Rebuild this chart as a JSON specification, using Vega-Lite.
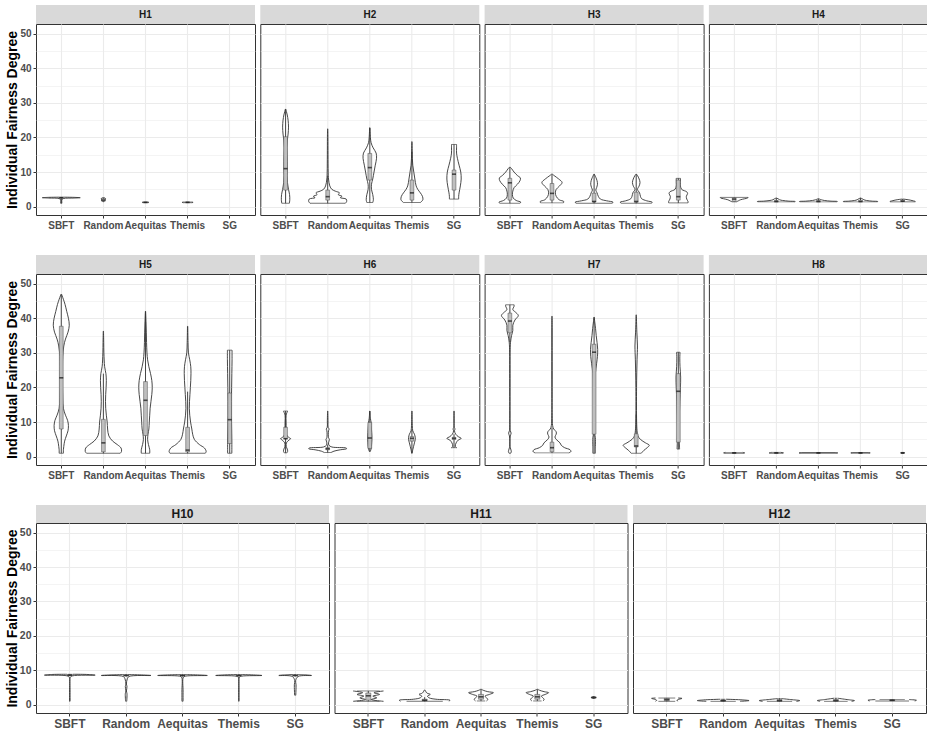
{
"$schema": "https://vega.github.io/schema/vega-lite/v6.json",
"padding": {"left": 4, "top": 5, "right": 1, "bottom": 2},
"config": {
 "background": "white",
 "font": "Liberation Sans",
 "view": {"stroke": "#333333", "strokeWidth": 1},
 "axis": {"domain": false, "gridColor": "#EBEBEB", "tickColor": "#333333", "tickSize": 3, "tickWidth": 1, "labelFontWeight": "bold", "labelColor": "#4D4D4D", "labelPadding": 2, "labelOverlap": false, "labelBound": false, "labelFlush": false, "labelFont": "Liberation Sans", "titleFont": "Liberation Sans"}
},
"datasets": {
 "panels": [{"p":"H1"},{"p":"H2"},{"p":"H3"},{"p":"H4"},{"p":"H5"},{"p":"H6"},{"p":"H7"},{"p":"H8"},{"p":"H10"},{"p":"H11"},{"p":"H12"}],
 "box": [
  {"p":"H1","m":"SBFT","lo":1,"q1":2.4,"med":2.6,"q3":2.6,"hi":2.7},
  {"p":"H1","m":"Random","lo":1.4,"q1":1.6,"med":1.9,"q3":2.3,"hi":2.6},
  {"p":"H1","m":"Aequitas","lo":1.15,"q1":1.2,"med":1.25,"q3":1.3,"hi":1.35},
  {"p":"H1","m":"Themis","lo":1.15,"q1":1.2,"med":1.25,"q3":1.3,"hi":1.35},
  {"p":"H2","m":"SBFT","lo":1,"q1":4.8,"med":11,"q3":20.2,"hi":28.2},
  {"p":"H2","m":"Random","lo":1,"q1":1.9,"med":2.9,"q3":4.8,"hi":9},
  {"p":"H2","m":"Aequitas","lo":1.2,"q1":7.7,"med":11.3,"q3":15.4,"hi":22.8},
  {"p":"H2","m":"Themis","lo":1.2,"q1":1.9,"med":4,"q3":7.7,"hi":16},
  {"p":"H2","m":"SG","lo":2.2,"q1":4.8,"med":9.4,"q3":10.6,"hi":18},
  {"p":"H3","m":"SBFT","lo":1,"q1":1.9,"med":6.9,"q3":8.2,"hi":11.4},
  {"p":"H3","m":"Random","lo":1.1,"q1":1.9,"med":3.85,"q3":6.7,"hi":9.4},
  {"p":"H3","m":"Aequitas","lo":1,"q1":1.4,"med":1.5,"q3":3.9,"hi":9.4},
  {"p":"H3","m":"Themis","lo":1,"q1":1.3,"med":1.5,"q3":4.2,"hi":9.4},
  {"p":"H3","m":"SG","lo":1.1,"q1":1.9,"med":2.9,"q3":7.7,"hi":8.2},
  {"p":"H4","m":"SBFT","lo":1.4,"q1":1.5,"med":2.2,"q3":2.6,"hi":2.7},
  {"p":"H4","m":"Random","lo":1.4,"q1":1.45,"med":1.5,"q3":1.8,"hi":2.5},
  {"p":"H4","m":"Aequitas","lo":1.4,"q1":1.45,"med":1.5,"q3":1.8,"hi":2.3},
  {"p":"H4","m":"Themis","lo":1.4,"q1":1.45,"med":1.5,"q3":1.9,"hi":2.5},
  {"p":"H4","m":"SG","lo":1.4,"q1":1.5,"med":1.6,"q3":1.9,"hi":2.2},
  {"p":"H5","m":"SBFT","lo":1,"q1":8,"med":22.8,"q3":37.7,"hi":46.9},
  {"p":"H5","m":"Random","lo":1,"q1":1.4,"med":4,"q3":10.8,"hi":24},
  {"p":"H5","m":"Aequitas","lo":1,"q1":6.1,"med":16.3,"q3":21.7,"hi":42},
  {"p":"H5","m":"Themis","lo":1,"q1":1.4,"med":1.9,"q3":8.5,"hi":18.8},
  {"p":"H5","m":"SG","lo":1,"q1":3.8,"med":10.7,"q3":18.4,"hi":30.8},
  {"p":"H6","m":"SBFT","lo":1.1,"q1":5.2,"med":5.2,"q3":8.5,"hi":13.2},
  {"p":"H6","m":"Random","lo":1.2,"q1":2.0,"med":2.3,"q3":2.6,"hi":3.5},
  {"p":"H6","m":"Aequitas","lo":1.5,"q1":2.4,"med":5.4,"q3":9.9,"hi":13.2},
  {"p":"H6","m":"Themis","lo":1,"q1":4.5,"med":5.3,"q3":5.8,"hi":7.8},
  {"p":"H6","m":"SG","lo":2.6,"q1":5.0,"med":5.3,"q3":5.6,"hi":6.5},
  {"p":"H7","m":"SBFT","lo":33,"q1":35.8,"med":39.2,"q3":41.5,"hi":43.9},
  {"p":"H7","m":"Random","lo":1.1,"q1":1.4,"med":2.6,"q3":4.2,"hi":8.4},
  {"p":"H7","m":"Aequitas","lo":1,"q1":6.5,"med":30.2,"q3":32.5,"hi":40.3},
  {"p":"H7","m":"Themis","lo":1,"q1":2.8,"med":3.1,"q3":6.6,"hi":12.2},
  {"p":"H7","m":"SG","lo":2.2,"q1":4.2,"med":18.9,"q3":24,"hi":30.2},
  {"p":"H8","m":"SBFT","lo":1,"q1":1.05,"med":1.1,"q3":1.15,"hi":1.2},
  {"p":"H8","m":"Random","lo":1,"q1":1.05,"med":1.1,"q3":1.15,"hi":1.2},
  {"p":"H8","m":"Aequitas","lo":1,"q1":1.05,"med":1.1,"q3":1.15,"hi":1.2},
  {"p":"H8","m":"Themis","lo":1,"q1":1.05,"med":1.1,"q3":1.15,"hi":1.2},
  {"p":"H8","m":"SG","lo":1,"q1":1.05,"med":1.1,"q3":1.15,"hi":1.2},
  {"p":"H10","m":"SBFT","lo":8.3,"q1":8.5,"med":8.6,"q3":8.7,"hi":8.8},
  {"p":"H10","m":"Random","lo":8.2,"q1":8.4,"med":8.5,"q3":8.6,"hi":8.7},
  {"p":"H10","m":"Aequitas","lo":8.2,"q1":8.4,"med":8.5,"q3":8.6,"hi":8.7},
  {"p":"H10","m":"Themis","lo":8.2,"q1":8.4,"med":8.5,"q3":8.6,"hi":8.7},
  {"p":"H10","m":"SG","lo":8.2,"q1":8.4,"med":8.5,"q3":8.6,"hi":8.7},
  {"p":"H11","m":"SBFT","lo":1,"q1":1.3,"med":2.6,"q3":3.4,"hi":4.0},
  {"p":"H11","m":"Random","lo":1,"q1":1.2,"med":1.3,"q3":1.6,"hi":2.2},
  {"p":"H11","m":"Aequitas","lo":1.1,"q1":1.6,"med":2.3,"q3":3.0,"hi":4.5},
  {"p":"H11","m":"Themis","lo":1.1,"q1":1.6,"med":2.3,"q3":3.0,"hi":4.5},
  {"p":"H11","m":"SG","lo":1.8,"q1":2.0,"med":2.1,"q3":2.2,"hi":2.4},
  {"p":"H12","m":"SBFT","lo":1,"q1":1.2,"med":1.5,"q3":1.85,"hi":1.95},
  {"p":"H12","m":"Random","lo":1,"q1":1.1,"med":1.2,"q3":1.3,"hi":1.5},
  {"p":"H12","m":"Aequitas","lo":1,"q1":1.1,"med":1.2,"q3":1.5,"hi":1.8},
  {"p":"H12","m":"Themis","lo":1,"q1":1.1,"med":1.2,"q3":1.5,"hi":1.9},
  {"p":"H12","m":"SG","lo":1.1,"q1":1.2,"med":1.3,"q3":1.4,"hi":1.5}
 ],
 "violin": [
  {"p":"H1","m":"SBFT","y":1.0,"w":0.015},{"p":"H1","m":"SBFT","y":1.5,"w":0.012},{"p":"H1","m":"SBFT","y":2.0,"w":0.015},{"p":"H1","m":"SBFT","y":2.35,"w":0.05},{"p":"H1","m":"SBFT","y":2.5,"w":0.3},{"p":"H1","m":"SBFT","y":2.6,"w":0.45},{"p":"H1","m":"SBFT","y":2.7,"w":0.3},{"p":"H1","m":"SBFT","y":2.75,"w":0.05},
  {"p":"H1","m":"Random","y":1.4,"w":0.01},{"p":"H1","m":"Random","y":1.7,"w":0.025},{"p":"H1","m":"Random","y":2.0,"w":0.04},{"p":"H1","m":"Random","y":2.3,"w":0.05},{"p":"H1","m":"Random","y":2.5,"w":0.04},{"p":"H1","m":"Random","y":2.6,"w":0.01},
  {"p":"H1","m":"Aequitas","y":1.15,"w":0.06},{"p":"H1","m":"Aequitas","y":1.25,"w":0.08},{"p":"H1","m":"Aequitas","y":1.35,"w":0.06},
  {"p":"H1","m":"Themis","y":1.15,"w":0.1},{"p":"H1","m":"Themis","y":1.25,"w":0.13},{"p":"H1","m":"Themis","y":1.35,"w":0.1},
  {"p":"H2","m":"SBFT","y":1.0,"w":0.09},{"p":"H2","m":"SBFT","y":2,"w":0.1},{"p":"H2","m":"SBFT","y":3.5,"w":0.095},{"p":"H2","m":"SBFT","y":5,"w":0.07},{"p":"H2","m":"SBFT","y":7,"w":0.045},{"p":"H2","m":"SBFT","y":9,"w":0.035},{"p":"H2","m":"SBFT","y":11,"w":0.04},{"p":"H2","m":"SBFT","y":13,"w":0.04},{"p":"H2","m":"SBFT","y":15,"w":0.035},{"p":"H2","m":"SBFT","y":17,"w":0.03},{"p":"H2","m":"SBFT","y":19,"w":0.04},{"p":"H2","m":"SBFT","y":21,"w":0.06},{"p":"H2","m":"SBFT","y":23,"w":0.07},{"p":"H2","m":"SBFT","y":25,"w":0.06},{"p":"H2","m":"SBFT","y":26.5,"w":0.04},{"p":"H2","m":"SBFT","y":27.5,"w":0.02},{"p":"H2","m":"SBFT","y":28.2,"w":0.005},
  {"p":"H2","m":"Random","y":1.0,"w":0.42},{"p":"H2","m":"Random","y":1.5,"w":0.45},{"p":"H2","m":"Random","y":2.2,"w":0.44},{"p":"H2","m":"Random","y":2.6,"w":0.3},{"p":"H2","m":"Random","y":3.0,"w":0.34},{"p":"H2","m":"Random","y":3.5,"w":0.25},{"p":"H2","m":"Random","y":4.0,"w":0.28},{"p":"H2","m":"Random","y":4.5,"w":0.18},{"p":"H2","m":"Random","y":5.0,"w":0.1},{"p":"H2","m":"Random","y":6,"w":0.05},{"p":"H2","m":"Random","y":8,"w":0.02},{"p":"H2","m":"Random","y":10,"w":0.012},{"p":"H2","m":"Random","y":15,"w":0.008},{"p":"H2","m":"Random","y":20,"w":0.006},{"p":"H2","m":"Random","y":22.5,"w":0.003},
  {"p":"H2","m":"Aequitas","y":1.2,"w":0.07},{"p":"H2","m":"Aequitas","y":2,"w":0.085},{"p":"H2","m":"Aequitas","y":3.5,"w":0.07},{"p":"H2","m":"Aequitas","y":5,"w":0.04},{"p":"H2","m":"Aequitas","y":6.5,"w":0.04},{"p":"H2","m":"Aequitas","y":8,"w":0.07},{"p":"H2","m":"Aequitas","y":10,"w":0.1},{"p":"H2","m":"Aequitas","y":12,"w":0.13},{"p":"H2","m":"Aequitas","y":14,"w":0.16},{"p":"H2","m":"Aequitas","y":15.5,"w":0.15},{"p":"H2","m":"Aequitas","y":17,"w":0.08},{"p":"H2","m":"Aequitas","y":18.5,"w":0.03},{"p":"H2","m":"Aequitas","y":20,"w":0.015},{"p":"H2","m":"Aequitas","y":22.8,"w":0.004},
  {"p":"H2","m":"Themis","y":1.2,"w":0.2},{"p":"H2","m":"Themis","y":2,"w":0.26},{"p":"H2","m":"Themis","y":3,"w":0.25},{"p":"H2","m":"Themis","y":4,"w":0.2},{"p":"H2","m":"Themis","y":5,"w":0.14},{"p":"H2","m":"Themis","y":6,"w":0.1},{"p":"H2","m":"Themis","y":8,"w":0.07},{"p":"H2","m":"Themis","y":10,"w":0.045},{"p":"H2","m":"Themis","y":12,"w":0.02},{"p":"H2","m":"Themis","y":14,"w":0.01},{"p":"H2","m":"Themis","y":16,"w":0.008},{"p":"H2","m":"Themis","y":18.8,"w":0.003},
  {"p":"H2","m":"SG","y":2.2,"w":0.11},{"p":"H2","m":"SG","y":3,"w":0.11},{"p":"H2","m":"SG","y":4,"w":0.12},{"p":"H2","m":"SG","y":6,"w":0.15},{"p":"H2","m":"SG","y":8,"w":0.17},{"p":"H2","m":"SG","y":10,"w":0.16},{"p":"H2","m":"SG","y":12,"w":0.12},{"p":"H2","m":"SG","y":14,"w":0.08},{"p":"H2","m":"SG","y":15.5,"w":0.06},{"p":"H2","m":"SG","y":17,"w":0.06},{"p":"H2","m":"SG","y":18,"w":0.06},
  {"p":"H3","m":"SBFT","y":1.0,"w":0.24},{"p":"H3","m":"SBFT","y":1.3,"w":0.26},{"p":"H3","m":"SBFT","y":1.8,"w":0.15},{"p":"H3","m":"SBFT","y":2.5,"w":0.08},{"p":"H3","m":"SBFT","y":3.5,"w":0.06},{"p":"H3","m":"SBFT","y":4.5,"w":0.07},{"p":"H3","m":"SBFT","y":5.5,"w":0.1},{"p":"H3","m":"SBFT","y":6.5,"w":0.18},{"p":"H3","m":"SBFT","y":7.5,"w":0.24},{"p":"H3","m":"SBFT","y":8.3,"w":0.25},{"p":"H3","m":"SBFT","y":9,"w":0.18},{"p":"H3","m":"SBFT","y":10,"w":0.1},{"p":"H3","m":"SBFT","y":11,"w":0.04},{"p":"H3","m":"SBFT","y":11.4,"w":0.01},
  {"p":"H3","m":"Random","y":1.1,"w":0.27},{"p":"H3","m":"Random","y":1.5,"w":0.28},{"p":"H3","m":"Random","y":2,"w":0.17},{"p":"H3","m":"Random","y":3,"w":0.1},{"p":"H3","m":"Random","y":4,"w":0.08},{"p":"H3","m":"Random","y":5,"w":0.1},{"p":"H3","m":"Random","y":6,"w":0.18},{"p":"H3","m":"Random","y":7,"w":0.24},{"p":"H3","m":"Random","y":8,"w":0.16},{"p":"H3","m":"Random","y":9,"w":0.05},{"p":"H3","m":"Random","y":9.4,"w":0.01},
  {"p":"H3","m":"Aequitas","y":1.0,"w":0.43},{"p":"H3","m":"Aequitas","y":1.3,"w":0.45},{"p":"H3","m":"Aequitas","y":1.7,"w":0.3},{"p":"H3","m":"Aequitas","y":2.2,"w":0.15},{"p":"H3","m":"Aequitas","y":3,"w":0.1},{"p":"H3","m":"Aequitas","y":4,"w":0.07},{"p":"H3","m":"Aequitas","y":4.8,"w":0.04},{"p":"H3","m":"Aequitas","y":5.5,"w":0.06},{"p":"H3","m":"Aequitas","y":6.5,"w":0.08},{"p":"H3","m":"Aequitas","y":7.5,"w":0.07},{"p":"H3","m":"Aequitas","y":8.5,"w":0.04},{"p":"H3","m":"Aequitas","y":9.4,"w":0.005},
  {"p":"H3","m":"Themis","y":1.0,"w":0.36},{"p":"H3","m":"Themis","y":1.3,"w":0.38},{"p":"H3","m":"Themis","y":1.7,"w":0.25},{"p":"H3","m":"Themis","y":2.3,"w":0.13},{"p":"H3","m":"Themis","y":3,"w":0.1},{"p":"H3","m":"Themis","y":4,"w":0.08},{"p":"H3","m":"Themis","y":5,"w":0.03},{"p":"H3","m":"Themis","y":6,"w":0.07},{"p":"H3","m":"Themis","y":7,"w":0.09},{"p":"H3","m":"Themis","y":8,"w":0.07},{"p":"H3","m":"Themis","y":9,"w":0.03},{"p":"H3","m":"Themis","y":9.4,"w":0.005},
  {"p":"H3","m":"SG","y":1.1,"w":0.23},{"p":"H3","m":"SG","y":1.5,"w":0.23},{"p":"H3","m":"SG","y":2.2,"w":0.2},{"p":"H3","m":"SG","y":3,"w":0.19},{"p":"H3","m":"SG","y":3.8,"w":0.22},{"p":"H3","m":"SG","y":4.3,"w":0.2},{"p":"H3","m":"SG","y":5,"w":0.08},{"p":"H3","m":"SG","y":6,"w":0.05},{"p":"H3","m":"SG","y":7,"w":0.05},{"p":"H3","m":"SG","y":8.2,"w":0.05},
  {"p":"H4","m":"SBFT","y":1.4,"w":0.05},{"p":"H4","m":"SBFT","y":1.7,"w":0.1},{"p":"H4","m":"SBFT","y":2.0,"w":0.15},{"p":"H4","m":"SBFT","y":2.3,"w":0.25},{"p":"H4","m":"SBFT","y":2.5,"w":0.32},{"p":"H4","m":"SBFT","y":2.7,"w":0.33},
  {"p":"H4","m":"Random","y":1.4,"w":0.44},{"p":"H4","m":"Random","y":1.5,"w":0.45},{"p":"H4","m":"Random","y":1.6,"w":0.3},{"p":"H4","m":"Random","y":1.8,"w":0.15},{"p":"H4","m":"Random","y":2.0,"w":0.08},{"p":"H4","m":"Random","y":2.3,"w":0.04},{"p":"H4","m":"Random","y":2.5,"w":0.005},
  {"p":"H4","m":"Aequitas","y":1.4,"w":0.44},{"p":"H4","m":"Aequitas","y":1.5,"w":0.45},{"p":"H4","m":"Aequitas","y":1.6,"w":0.3},{"p":"H4","m":"Aequitas","y":1.8,"w":0.14},{"p":"H4","m":"Aequitas","y":2.0,"w":0.07},{"p":"H4","m":"Aequitas","y":2.3,"w":0.005},
  {"p":"H4","m":"Themis","y":1.4,"w":0.4},{"p":"H4","m":"Themis","y":1.5,"w":0.41},{"p":"H4","m":"Themis","y":1.6,"w":0.28},{"p":"H4","m":"Themis","y":1.8,"w":0.14},{"p":"H4","m":"Themis","y":2.0,"w":0.08},{"p":"H4","m":"Themis","y":2.3,"w":0.04},{"p":"H4","m":"Themis","y":2.5,"w":0.005},
  {"p":"H4","m":"SG","y":1.4,"w":0.3},{"p":"H4","m":"SG","y":1.5,"w":0.3},{"p":"H4","m":"SG","y":1.7,"w":0.25},{"p":"H4","m":"SG","y":1.9,"w":0.18},{"p":"H4","m":"SG","y":2.1,"w":0.08},{"p":"H4","m":"SG","y":2.2,"w":0.01},
  {"p":"H5","m":"SBFT","y":1.0,"w":0.05},{"p":"H5","m":"SBFT","y":2,"w":0.05},{"p":"H5","m":"SBFT","y":3,"w":0.06},{"p":"H5","m":"SBFT","y":4.5,"w":0.08},{"p":"H5","m":"SBFT","y":6,"w":0.12},{"p":"H5","m":"SBFT","y":7.5,"w":0.16},{"p":"H5","m":"SBFT","y":9,"w":0.17},{"p":"H5","m":"SBFT","y":10.5,"w":0.15},{"p":"H5","m":"SBFT","y":12,"w":0.1},{"p":"H5","m":"SBFT","y":14,"w":0.05},{"p":"H5","m":"SBFT","y":17,"w":0.035},{"p":"H5","m":"SBFT","y":20,"w":0.03},{"p":"H5","m":"SBFT","y":23,"w":0.03},{"p":"H5","m":"SBFT","y":26,"w":0.03},{"p":"H5","m":"SBFT","y":29,"w":0.035},{"p":"H5","m":"SBFT","y":32,"w":0.06},{"p":"H5","m":"SBFT","y":34,"w":0.1},{"p":"H5","m":"SBFT","y":36,"w":0.16},{"p":"H5","m":"SBFT","y":38,"w":0.19},{"p":"H5","m":"SBFT","y":40,"w":0.17},{"p":"H5","m":"SBFT","y":42,"w":0.13},{"p":"H5","m":"SBFT","y":44,"w":0.09},{"p":"H5","m":"SBFT","y":45.5,"w":0.05},{"p":"H5","m":"SBFT","y":46.5,"w":0.02},{"p":"H5","m":"SBFT","y":46.9,"w":0.01},
  {"p":"H5","m":"Random","y":1.0,"w":0.4},{"p":"H5","m":"Random","y":1.5,"w":0.43},{"p":"H5","m":"Random","y":2.5,"w":0.42},{"p":"H5","m":"Random","y":3.5,"w":0.33},{"p":"H5","m":"Random","y":4.5,"w":0.22},{"p":"H5","m":"Random","y":6,"w":0.13},{"p":"H5","m":"Random","y":8,"w":0.1},{"p":"H5","m":"Random","y":10,"w":0.09},{"p":"H5","m":"Random","y":12,"w":0.07},{"p":"H5","m":"Random","y":14,"w":0.055},{"p":"H5","m":"Random","y":16,"w":0.05},{"p":"H5","m":"Random","y":18,"w":0.055},{"p":"H5","m":"Random","y":20,"w":0.065},{"p":"H5","m":"Random","y":22,"w":0.07},{"p":"H5","m":"Random","y":24,"w":0.06},{"p":"H5","m":"Random","y":26,"w":0.03},{"p":"H5","m":"Random","y":30,"w":0.012},{"p":"H5","m":"Random","y":33,"w":0.008},{"p":"H5","m":"Random","y":36.3,"w":0.003},
  {"p":"H5","m":"Aequitas","y":1.0,"w":0.1},{"p":"H5","m":"Aequitas","y":2,"w":0.1},{"p":"H5","m":"Aequitas","y":3.5,"w":0.07},{"p":"H5","m":"Aequitas","y":5,"w":0.05},{"p":"H5","m":"Aequitas","y":6.5,"w":0.06},{"p":"H5","m":"Aequitas","y":8,"w":0.08},{"p":"H5","m":"Aequitas","y":10,"w":0.09},{"p":"H5","m":"Aequitas","y":12,"w":0.1},{"p":"H5","m":"Aequitas","y":14,"w":0.11},{"p":"H5","m":"Aequitas","y":16,"w":0.13},{"p":"H5","m":"Aequitas","y":18,"w":0.15},{"p":"H5","m":"Aequitas","y":20,"w":0.16},{"p":"H5","m":"Aequitas","y":22,"w":0.15},{"p":"H5","m":"Aequitas","y":24,"w":0.12},{"p":"H5","m":"Aequitas","y":26,"w":0.08},{"p":"H5","m":"Aequitas","y":28,"w":0.05},{"p":"H5","m":"Aequitas","y":30,"w":0.035},{"p":"H5","m":"Aequitas","y":33,"w":0.025},{"p":"H5","m":"Aequitas","y":36,"w":0.02},{"p":"H5","m":"Aequitas","y":39,"w":0.012},{"p":"H5","m":"Aequitas","y":42,"w":0.003},
  {"p":"H5","m":"Themis","y":1.0,"w":0.42},{"p":"H5","m":"Themis","y":1.5,"w":0.44},{"p":"H5","m":"Themis","y":2.5,"w":0.4},{"p":"H5","m":"Themis","y":3.5,"w":0.28},{"p":"H5","m":"Themis","y":5,"w":0.16},{"p":"H5","m":"Themis","y":6.5,"w":0.12},{"p":"H5","m":"Themis","y":8,"w":0.1},{"p":"H5","m":"Themis","y":10,"w":0.07},{"p":"H5","m":"Themis","y":12,"w":0.05},{"p":"H5","m":"Themis","y":14,"w":0.04},{"p":"H5","m":"Themis","y":16,"w":0.045},{"p":"H5","m":"Themis","y":18,"w":0.055},{"p":"H5","m":"Themis","y":20,"w":0.065},{"p":"H5","m":"Themis","y":22,"w":0.075},{"p":"H5","m":"Themis","y":24,"w":0.08},{"p":"H5","m":"Themis","y":26,"w":0.075},{"p":"H5","m":"Themis","y":28,"w":0.05},{"p":"H5","m":"Themis","y":30,"w":0.02},{"p":"H5","m":"Themis","y":33,"w":0.01},{"p":"H5","m":"Themis","y":37.7,"w":0.003},
  {"p":"H5","m":"SG","y":1.0,"w":0.05},{"p":"H5","m":"SG","y":4,"w":0.05},{"p":"H5","m":"SG","y":8,"w":0.045},{"p":"H5","m":"SG","y":12,"w":0.04},{"p":"H5","m":"SG","y":16,"w":0.04},{"p":"H5","m":"SG","y":20,"w":0.045},{"p":"H5","m":"SG","y":24,"w":0.05},{"p":"H5","m":"SG","y":28,"w":0.055},{"p":"H5","m":"SG","y":30.8,"w":0.055},
  {"p":"H6","m":"SBFT","y":1.1,"w":0.03},{"p":"H6","m":"SBFT","y":1.6,"w":0.05},{"p":"H6","m":"SBFT","y":2.2,"w":0.04},{"p":"H6","m":"SBFT","y":3,"w":0.015},{"p":"H6","m":"SBFT","y":4,"w":0.02},{"p":"H6","m":"SBFT","y":4.8,"w":0.08},{"p":"H6","m":"SBFT","y":5.2,"w":0.12},{"p":"H6","m":"SBFT","y":5.6,"w":0.07},{"p":"H6","m":"SBFT","y":6.5,"w":0.02},{"p":"H6","m":"SBFT","y":8,"w":0.015},{"p":"H6","m":"SBFT","y":10,"w":0.012},{"p":"H6","m":"SBFT","y":12,"w":0.012},{"p":"H6","m":"SBFT","y":13.2,"w":0.05},
  {"p":"H6","m":"Random","y":1.2,"w":0.08},{"p":"H6","m":"Random","y":1.6,"w":0.15},{"p":"H6","m":"Random","y":2.0,"w":0.3},{"p":"H6","m":"Random","y":2.3,"w":0.45},{"p":"H6","m":"Random","y":2.5,"w":0.44},{"p":"H6","m":"Random","y":2.8,"w":0.1},{"p":"H6","m":"Random","y":3.3,"w":0.03},{"p":"H6","m":"Random","y":4,"w":0.02},{"p":"H6","m":"Random","y":5,"w":0.04},{"p":"H6","m":"Random","y":5.5,"w":0.02},{"p":"H6","m":"Random","y":7.5,"w":0.02},{"p":"H6","m":"Random","y":8,"w":0.035},{"p":"H6","m":"Random","y":8.5,"w":0.01},{"p":"H6","m":"Random","y":10,"w":0.008},{"p":"H6","m":"Random","y":13.2,"w":0.003},
  {"p":"H6","m":"Aequitas","y":1.5,"w":0.01},{"p":"H6","m":"Aequitas","y":2.2,"w":0.03},{"p":"H6","m":"Aequitas","y":3,"w":0.04},{"p":"H6","m":"Aequitas","y":4,"w":0.045},{"p":"H6","m":"Aequitas","y":5,"w":0.05},{"p":"H6","m":"Aequitas","y":6,"w":0.05},{"p":"H6","m":"Aequitas","y":7,"w":0.045},{"p":"H6","m":"Aequitas","y":8,"w":0.04},{"p":"H6","m":"Aequitas","y":9,"w":0.035},{"p":"H6","m":"Aequitas","y":10,"w":0.03},{"p":"H6","m":"Aequitas","y":11,"w":0.015},{"p":"H6","m":"Aequitas","y":13.2,"w":0.003},
  {"p":"H6","m":"Themis","y":1.0,"w":0.005},{"p":"H6","m":"Themis","y":2,"w":0.02},{"p":"H6","m":"Themis","y":3,"w":0.04},{"p":"H6","m":"Themis","y":4,"w":0.06},{"p":"H6","m":"Themis","y":5,"w":0.08},{"p":"H6","m":"Themis","y":5.5,"w":0.08},{"p":"H6","m":"Themis","y":6.5,"w":0.06},{"p":"H6","m":"Themis","y":7.5,"w":0.02},{"p":"H6","m":"Themis","y":9,"w":0.01},{"p":"H6","m":"Themis","y":13.2,"w":0.003},
  {"p":"H6","m":"SG","y":2.6,"w":0.06},{"p":"H6","m":"SG","y":3,"w":0.03},{"p":"H6","m":"SG","y":4,"w":0.05},{"p":"H6","m":"SG","y":4.8,"w":0.1},{"p":"H6","m":"SG","y":5.3,"w":0.17},{"p":"H6","m":"SG","y":5.8,"w":0.1},{"p":"H6","m":"SG","y":6.5,"w":0.04},{"p":"H6","m":"SG","y":7.5,"w":0.01},{"p":"H6","m":"SG","y":8,"w":0.025},{"p":"H6","m":"SG","y":8.5,"w":0.005},{"p":"H6","m":"SG","y":13.2,"w":0.003},
  {"p":"H7","m":"SBFT","y":1.0,"w":0.02},{"p":"H7","m":"SBFT","y":1.5,"w":0.035},{"p":"H7","m":"SBFT","y":2.2,"w":0.02},{"p":"H7","m":"SBFT","y":3,"w":0.005},{"p":"H7","m":"SBFT","y":6,"w":0.01},{"p":"H7","m":"SBFT","y":6.8,"w":0.03},{"p":"H7","m":"SBFT","y":7.5,"w":0.01},{"p":"H7","m":"SBFT","y":10,"w":0.004},{"p":"H7","m":"SBFT","y":20,"w":0.004},{"p":"H7","m":"SBFT","y":30,"w":0.006},{"p":"H7","m":"SBFT","y":33,"w":0.015},{"p":"H7","m":"SBFT","y":35,"w":0.04},{"p":"H7","m":"SBFT","y":36.5,"w":0.07},{"p":"H7","m":"SBFT","y":38,"w":0.07},{"p":"H7","m":"SBFT","y":39.5,"w":0.12},{"p":"H7","m":"SBFT","y":40.8,"w":0.2},{"p":"H7","m":"SBFT","y":41.8,"w":0.13},{"p":"H7","m":"SBFT","y":42.5,"w":0.07},{"p":"H7","m":"SBFT","y":43.5,"w":0.1},{"p":"H7","m":"SBFT","y":43.9,"w":0.1},
  {"p":"H7","m":"Random","y":1.1,"w":0.4},{"p":"H7","m":"Random","y":1.5,"w":0.45},{"p":"H7","m":"Random","y":2.0,"w":0.43},{"p":"H7","m":"Random","y":2.6,"w":0.3},{"p":"H7","m":"Random","y":3.3,"w":0.22},{"p":"H7","m":"Random","y":4,"w":0.19},{"p":"H7","m":"Random","y":5,"w":0.1},{"p":"H7","m":"Random","y":5.7,"w":0.07},{"p":"H7","m":"Random","y":6.5,"w":0.1},{"p":"H7","m":"Random","y":7.2,"w":0.1},{"p":"H7","m":"Random","y":8,"w":0.04},{"p":"H7","m":"Random","y":9,"w":0.015},{"p":"H7","m":"Random","y":12,"w":0.006},{"p":"H7","m":"Random","y":20,"w":0.004},{"p":"H7","m":"Random","y":30,"w":0.004},{"p":"H7","m":"Random","y":40.6,"w":0.003},
  {"p":"H7","m":"Aequitas","y":1.0,"w":0.03},{"p":"H7","m":"Aequitas","y":3,"w":0.03},{"p":"H7","m":"Aequitas","y":5.5,"w":0.03},{"p":"H7","m":"Aequitas","y":6.5,"w":0.015},{"p":"H7","m":"Aequitas","y":10,"w":0.012},{"p":"H7","m":"Aequitas","y":15,"w":0.015},{"p":"H7","m":"Aequitas","y":20,"w":0.02},{"p":"H7","m":"Aequitas","y":24,"w":0.03},{"p":"H7","m":"Aequitas","y":27,"w":0.06},{"p":"H7","m":"Aequitas","y":29,"w":0.08},{"p":"H7","m":"Aequitas","y":31,"w":0.085},{"p":"H7","m":"Aequitas","y":33,"w":0.07},{"p":"H7","m":"Aequitas","y":35,"w":0.05},{"p":"H7","m":"Aequitas","y":37,"w":0.035},{"p":"H7","m":"Aequitas","y":39,"w":0.015},{"p":"H7","m":"Aequitas","y":40.3,"w":0.003},
  {"p":"H7","m":"Themis","y":1.0,"w":0.12},{"p":"H7","m":"Themis","y":1.8,"w":0.18},{"p":"H7","m":"Themis","y":2.6,"w":0.26},{"p":"H7","m":"Themis","y":3.3,"w":0.31},{"p":"H7","m":"Themis","y":4,"w":0.22},{"p":"H7","m":"Themis","y":5,"w":0.1},{"p":"H7","m":"Themis","y":6,"w":0.04},{"p":"H7","m":"Themis","y":7.5,"w":0.02},{"p":"H7","m":"Themis","y":10,"w":0.01},{"p":"H7","m":"Themis","y":20,"w":0.008},{"p":"H7","m":"Themis","y":28,"w":0.02},{"p":"H7","m":"Themis","y":32,"w":0.03},{"p":"H7","m":"Themis","y":36,"w":0.015},{"p":"H7","m":"Themis","y":41,"w":0.003},
  {"p":"H7","m":"SG","y":2.2,"w":0.03},{"p":"H7","m":"SG","y":4,"w":0.025},{"p":"H7","m":"SG","y":8,"w":0.02},{"p":"H7","m":"SG","y":12,"w":0.025},{"p":"H7","m":"SG","y":16,"w":0.035},{"p":"H7","m":"SG","y":20,"w":0.05},{"p":"H7","m":"SG","y":23,"w":0.055},{"p":"H7","m":"SG","y":26,"w":0.04},{"p":"H7","m":"SG","y":28.5,"w":0.035},{"p":"H7","m":"SG","y":30.2,"w":0.04},
  {"p":"H8","m":"SBFT","y":0.95,"w":0.2},{"p":"H8","m":"SBFT","y":1.1,"w":0.25},{"p":"H8","m":"SBFT","y":1.25,"w":0.2},
  {"p":"H8","m":"Random","y":0.95,"w":0.15},{"p":"H8","m":"Random","y":1.1,"w":0.17},{"p":"H8","m":"Random","y":1.25,"w":0.1},
  {"p":"H8","m":"Aequitas","y":1.0,"w":0.44},{"p":"H8","m":"Aequitas","y":1.1,"w":0.46},{"p":"H8","m":"Aequitas","y":1.2,"w":0.4},
  {"p":"H8","m":"Themis","y":1.0,"w":0.2},{"p":"H8","m":"Themis","y":1.1,"w":0.23},{"p":"H8","m":"Themis","y":1.2,"w":0.18},
  {"p":"H8","m":"SG","y":0.95,"w":0.03},{"p":"H8","m":"SG","y":1.1,"w":0.03},{"p":"H8","m":"SG","y":1.25,"w":0.03},
  {"p":"H10","m":"SBFT","y":1.0,"w":0.005},{"p":"H10","m":"SBFT","y":4,"w":0.005},{"p":"H10","m":"SBFT","y":8,"w":0.01},{"p":"H10","m":"SBFT","y":8.4,"w":0.05},{"p":"H10","m":"SBFT","y":8.6,"w":0.45},{"p":"H10","m":"SBFT","y":8.8,"w":0.3},{"p":"H10","m":"SBFT","y":8.85,"w":0.05},
  {"p":"H10","m":"Random","y":1.0,"w":0.01},{"p":"H10","m":"Random","y":3.2,"w":0.015},{"p":"H10","m":"Random","y":4,"w":0.005},{"p":"H10","m":"Random","y":5.3,"w":0.015},{"p":"H10","m":"Random","y":6,"w":0.005},{"p":"H10","m":"Random","y":7.5,"w":0.02},{"p":"H10","m":"Random","y":8.2,"w":0.05},{"p":"H10","m":"Random","y":8.5,"w":0.44},{"p":"H10","m":"Random","y":8.7,"w":0.2},{"p":"H10","m":"Random","y":8.75,"w":0.03},
  {"p":"H10","m":"Aequitas","y":1.0,"w":0.01},{"p":"H10","m":"Aequitas","y":4,"w":0.01},{"p":"H10","m":"Aequitas","y":8,"w":0.015},{"p":"H10","m":"Aequitas","y":8.3,"w":0.05},{"p":"H10","m":"Aequitas","y":8.5,"w":0.44},{"p":"H10","m":"Aequitas","y":8.7,"w":0.2},{"p":"H10","m":"Aequitas","y":8.75,"w":0.03},
  {"p":"H10","m":"Themis","y":1.0,"w":0.003},{"p":"H10","m":"Themis","y":4,"w":0.004},{"p":"H10","m":"Themis","y":8,"w":0.01},{"p":"H10","m":"Themis","y":8.3,"w":0.05},{"p":"H10","m":"Themis","y":8.5,"w":0.41},{"p":"H10","m":"Themis","y":8.7,"w":0.2},{"p":"H10","m":"Themis","y":8.75,"w":0.03},
  {"p":"H10","m":"SG","y":2.75,"w":0.01},{"p":"H10","m":"SG","y":5.8,"w":0.015},{"p":"H10","m":"SG","y":7,"w":0.008},{"p":"H10","m":"SG","y":8.2,"w":0.05},{"p":"H10","m":"SG","y":8.5,"w":0.29},{"p":"H10","m":"SG","y":8.7,"w":0.15},{"p":"H10","m":"SG","y":8.75,"w":0.03},
  {"p":"H11","m":"SBFT","y":1.0,"w":0.27},{"p":"H11","m":"SBFT","y":1.5,"w":0.05},{"p":"H11","m":"SBFT","y":2.0,"w":0.15},{"p":"H11","m":"SBFT","y":2.5,"w":0.08},{"p":"H11","m":"SBFT","y":3.0,"w":0.2},{"p":"H11","m":"SBFT","y":3.5,"w":0.1},{"p":"H11","m":"SBFT","y":4.0,"w":0.27},
  {"p":"H11","m":"Random","y":1.0,"w":0.43},{"p":"H11","m":"Random","y":1.3,"w":0.45},{"p":"H11","m":"Random","y":1.6,"w":0.2},{"p":"H11","m":"Random","y":2.0,"w":0.08},{"p":"H11","m":"Random","y":2.5,"w":0.05},{"p":"H11","m":"Random","y":3.0,"w":0.1},{"p":"H11","m":"Random","y":3.4,"w":0.04},{"p":"H11","m":"Random","y":4.3,"w":0.005},
  {"p":"H11","m":"Aequitas","y":1.1,"w":0.1},{"p":"H11","m":"Aequitas","y":1.5,"w":0.12},{"p":"H11","m":"Aequitas","y":2.0,"w":0.1},{"p":"H11","m":"Aequitas","y":2.5,"w":0.07},{"p":"H11","m":"Aequitas","y":3.0,"w":0.15},{"p":"H11","m":"Aequitas","y":3.5,"w":0.22},{"p":"H11","m":"Aequitas","y":3.8,"w":0.12},{"p":"H11","m":"Aequitas","y":4.2,"w":0.04},{"p":"H11","m":"Aequitas","y":4.5,"w":0.005},
  {"p":"H11","m":"Themis","y":1.1,"w":0.1},{"p":"H11","m":"Themis","y":1.5,"w":0.12},{"p":"H11","m":"Themis","y":2.0,"w":0.1},{"p":"H11","m":"Themis","y":2.5,"w":0.07},{"p":"H11","m":"Themis","y":3.0,"w":0.14},{"p":"H11","m":"Themis","y":3.5,"w":0.2},{"p":"H11","m":"Themis","y":3.8,"w":0.12},{"p":"H11","m":"Themis","y":4.2,"w":0.04},{"p":"H11","m":"Themis","y":4.5,"w":0.005},
  {"p":"H11","m":"SG","y":1.8,"w":0.02},{"p":"H11","m":"SG","y":2.1,"w":0.03},{"p":"H11","m":"SG","y":2.4,"w":0.02},
  {"p":"H12","m":"SBFT","y":1.0,"w":0.2},{"p":"H12","m":"SBFT","y":1.3,"w":0.18},{"p":"H12","m":"SBFT","y":1.6,"w":0.22},{"p":"H12","m":"SBFT","y":1.85,"w":0.27},{"p":"H12","m":"SBFT","y":1.95,"w":0.2},
  {"p":"H12","m":"Random","y":1.0,"w":0.3},{"p":"H12","m":"Random","y":1.2,"w":0.46},{"p":"H12","m":"Random","y":1.4,"w":0.35},{"p":"H12","m":"Random","y":1.6,"w":0.05},
  {"p":"H12","m":"Aequitas","y":1.0,"w":0.3},{"p":"H12","m":"Aequitas","y":1.2,"w":0.36},{"p":"H12","m":"Aequitas","y":1.5,"w":0.2},{"p":"H12","m":"Aequitas","y":1.8,"w":0.03},
  {"p":"H12","m":"Themis","y":1.0,"w":0.28},{"p":"H12","m":"Themis","y":1.2,"w":0.33},{"p":"H12","m":"Themis","y":1.5,"w":0.2},{"p":"H12","m":"Themis","y":1.9,"w":0.03},
  {"p":"H12","m":"SG","y":1.1,"w":0.4},{"p":"H12","m":"SG","y":1.3,"w":0.43},{"p":"H12","m":"SG","y":1.5,"w":0.3}
 ]
},
"spacing": 24,
"vconcat": [
 {"spacing": 3.3, "hconcat": [
  {"spacing":0,"bounds":"flush","vconcat":[
   {"width":219,"height":19,"data":{"name":"panels"},"transform":[{"filter":{"field":"p","equal":"H1"}}],"view":{"fill":"#D9D9D9"},"mark":{"type":"text","fontWeight":"bold","fontSize":10,"color":"#1A1A1A"},"encoding":{"text":{"field":"p","type":"nominal"}}},
   {"width":219,"height":191,"encoding":{"x":{"field":"m","type":"nominal","scale":{"type":"band","domain":["SBFT","Random","Aequitas","Themis","SG"],"paddingInner":0,"paddingOuter":0.1},"axis":{"title":null,"labelAngle":0,"labelFontSize":10,"bandPosition":0.5,"grid":true,"gridWidth":1.1}}},"resolve":{"scale":{"xOffset":"independent"}},"layer":[
    {"data":{"name":"violin"},"transform":[{"filter":{"field":"p","equal":"H1"}}],"mark":{"type":"line","color":"#333333","strokeWidth":0.9,"interpolate":"catmull-rom"},"encoding":{"y":{"field":"y","type":"quantitative","scale":{"domain":[-2.4,52.8],"nice":false,"zero":false},"axis":{"title":"Individual Fairness Degree","values":[0,5,10,15,20,25,30,35,40,45,50],"labelExpr":"datum.value % 10 === 0 ? datum.label : ''","labelFontSize":10,"titleFontSize":14,"titleFontWeight":"bold","titleColor":"#000000","titlePadding":0,"grid":true,"gridWidth":{"condition":{"test":"datum.value % 10 !== 0","value":0.55},"value":1.1},"tickOpacity":{"condition":{"test":"datum.value % 10 !== 0","value":0},"value":1}}},"xOffset":{"field":"w","type":"quantitative","scale":{"domain":[-0.5,0.5],"range":[0,42.115]}},"order":{"field":"y","type":"quantitative"},"detail":{"field":"m"}}},
    {"data":{"name":"violin"},"transform":[{"filter":{"field":"p","equal":"H1"}}],"mark":{"type":"line","color":"#333333","strokeWidth":0.9,"interpolate":"catmull-rom"},"encoding":{"y":{"field":"y","type":"quantitative","scale":{"domain":[-2.4,52.8],"nice":false,"zero":false},"axis":{"title":"Individual Fairness Degree","values":[0,5,10,15,20,25,30,35,40,45,50],"labelExpr":"datum.value % 10 === 0 ? datum.label : ''","labelFontSize":10,"titleFontSize":14,"titleFontWeight":"bold","titleColor":"#000000","titlePadding":0,"grid":true,"gridWidth":{"condition":{"test":"datum.value % 10 !== 0","value":0.55},"value":1.1},"tickOpacity":{"condition":{"test":"datum.value % 10 !== 0","value":0},"value":1}}},"xOffset":{"field":"w","type":"quantitative","scale":{"domain":[-0.5,0.5],"range":[0,42.115],"reverse":true}},"order":{"field":"y","type":"quantitative"},"detail":{"field":"m"}}},
    {"data":{"name":"violin"},"transform":[{"filter":{"field":"p","equal":"H1"}},{"joinaggregate":[{"op":"min","field":"y","as":"y0"},{"op":"max","field":"y","as":"y1"}],"groupby":["m"]},{"filter":"datum.y === datum.y0 || datum.y === datum.y1"}],"mark":{"type":"tick","color":"#333333","thickness":0.9},"encoding":{"y":{"field":"y","type":"quantitative","scale":{"domain":[-2.4,52.8],"nice":false,"zero":false},"axis":{"title":"Individual Fairness Degree","values":[0,5,10,15,20,25,30,35,40,45,50],"labelExpr":"datum.value % 10 === 0 ? datum.label : ''","labelFontSize":10,"titleFontSize":14,"titleFontWeight":"bold","titleColor":"#000000","titlePadding":0,"grid":true,"gridWidth":{"condition":{"test":"datum.value % 10 !== 0","value":0.55},"value":1.1},"tickOpacity":{"condition":{"test":"datum.value % 10 !== 0","value":0},"value":1}}},"size":{"field":"w","type":"quantitative","scale":{"domain":[0,0.5],"range":[0,42.115]},"legend":null}}},
    {"data":{"name":"box"},"transform":[{"filter":{"field":"p","equal":"H1"}}],"mark":{"type":"rule","color":"#333333","strokeWidth":0.9},"encoding":{"y":{"field":"lo","type":"quantitative","scale":{"domain":[-2.4,52.8],"nice":false,"zero":false},"axis":{"title":"Individual Fairness Degree","values":[0,5,10,15,20,25,30,35,40,45,50],"labelExpr":"datum.value % 10 === 0 ? datum.label : ''","labelFontSize":10,"titleFontSize":14,"titleFontWeight":"bold","titleColor":"#000000","titlePadding":0,"grid":true,"gridWidth":{"condition":{"test":"datum.value % 10 !== 0","value":0.55},"value":1.1},"tickOpacity":{"condition":{"test":"datum.value % 10 !== 0","value":0},"value":1}}},"y2":{"field":"hi"}}},
    {"data":{"name":"box"},"transform":[{"filter":{"field":"p","equal":"H1"}}],"mark":{"type":"bar","width":{"band":0.09},"fill":"#BFBFBF","stroke":"#4D4D4D","strokeWidth":0.5},"encoding":{"y":{"field":"q1","type":"quantitative","scale":{"domain":[-2.4,52.8],"nice":false,"zero":false},"axis":{"title":"Individual Fairness Degree","values":[0,5,10,15,20,25,30,35,40,45,50],"labelExpr":"datum.value % 10 === 0 ? datum.label : ''","labelFontSize":10,"titleFontSize":14,"titleFontWeight":"bold","titleColor":"#000000","titlePadding":0,"grid":true,"gridWidth":{"condition":{"test":"datum.value % 10 !== 0","value":0.55},"value":1.1},"tickOpacity":{"condition":{"test":"datum.value % 10 !== 0","value":0},"value":1}}},"y2":{"field":"q3"}}},
    {"data":{"name":"box"},"transform":[{"filter":{"field":"p","equal":"H1"}}],"mark":{"type":"tick","color":"#111111","size":4,"thickness":1.6},"encoding":{"y":{"field":"med","type":"quantitative","scale":{"domain":[-2.4,52.8],"nice":false,"zero":false},"axis":{"title":"Individual Fairness Degree","values":[0,5,10,15,20,25,30,35,40,45,50],"labelExpr":"datum.value % 10 === 0 ? datum.label : ''","labelFontSize":10,"titleFontSize":14,"titleFontWeight":"bold","titleColor":"#000000","titlePadding":0,"grid":true,"gridWidth":{"condition":{"test":"datum.value % 10 !== 0","value":0.55},"value":1.1},"tickOpacity":{"condition":{"test":"datum.value % 10 !== 0","value":0},"value":1}}}}}
   ]}
  ]},
  {"spacing":0,"bounds":"flush","vconcat":[
   {"width":219,"height":19,"data":{"name":"panels"},"transform":[{"filter":{"field":"p","equal":"H2"}}],"view":{"fill":"#D9D9D9"},"mark":{"type":"text","fontWeight":"bold","fontSize":10,"color":"#1A1A1A"},"encoding":{"text":{"field":"p","type":"nominal"}}},
   {"width":219,"height":191,"encoding":{"x":{"field":"m","type":"nominal","scale":{"type":"band","domain":["SBFT","Random","Aequitas","Themis","SG"],"paddingInner":0,"paddingOuter":0.1},"axis":{"title":null,"labelAngle":0,"labelFontSize":10,"bandPosition":0.5,"grid":true,"gridWidth":1.1}}},"resolve":{"scale":{"xOffset":"independent"}},"layer":[
    {"data":{"name":"violin"},"transform":[{"filter":{"field":"p","equal":"H2"}}],"mark":{"type":"line","color":"#333333","strokeWidth":0.9,"interpolate":"catmull-rom"},"encoding":{"y":{"field":"y","type":"quantitative","scale":{"domain":[-2.4,52.8],"nice":false,"zero":false},"axis":{"title":null,"values":[0,5,10,15,20,25,30,35,40,45,50],"labels":false,"ticks":false,"grid":true,"gridWidth":{"condition":{"test":"datum.value % 10 !== 0","value":0.55},"value":1.1}}},"xOffset":{"field":"w","type":"quantitative","scale":{"domain":[-0.5,0.5],"range":[0,42.115]}},"order":{"field":"y","type":"quantitative"},"detail":{"field":"m"}}},
    {"data":{"name":"violin"},"transform":[{"filter":{"field":"p","equal":"H2"}}],"mark":{"type":"line","color":"#333333","strokeWidth":0.9,"interpolate":"catmull-rom"},"encoding":{"y":{"field":"y","type":"quantitative","scale":{"domain":[-2.4,52.8],"nice":false,"zero":false},"axis":{"title":null,"values":[0,5,10,15,20,25,30,35,40,45,50],"labels":false,"ticks":false,"grid":true,"gridWidth":{"condition":{"test":"datum.value % 10 !== 0","value":0.55},"value":1.1}}},"xOffset":{"field":"w","type":"quantitative","scale":{"domain":[-0.5,0.5],"range":[0,42.115],"reverse":true}},"order":{"field":"y","type":"quantitative"},"detail":{"field":"m"}}},
    {"data":{"name":"violin"},"transform":[{"filter":{"field":"p","equal":"H2"}},{"joinaggregate":[{"op":"min","field":"y","as":"y0"},{"op":"max","field":"y","as":"y1"}],"groupby":["m"]},{"filter":"datum.y === datum.y0 || datum.y === datum.y1"}],"mark":{"type":"tick","color":"#333333","thickness":0.9},"encoding":{"y":{"field":"y","type":"quantitative","scale":{"domain":[-2.4,52.8],"nice":false,"zero":false},"axis":{"title":null,"values":[0,5,10,15,20,25,30,35,40,45,50],"labels":false,"ticks":false,"grid":true,"gridWidth":{"condition":{"test":"datum.value % 10 !== 0","value":0.55},"value":1.1}}},"size":{"field":"w","type":"quantitative","scale":{"domain":[0,0.5],"range":[0,42.115]},"legend":null}}},
    {"data":{"name":"box"},"transform":[{"filter":{"field":"p","equal":"H2"}}],"mark":{"type":"rule","color":"#333333","strokeWidth":0.9},"encoding":{"y":{"field":"lo","type":"quantitative","scale":{"domain":[-2.4,52.8],"nice":false,"zero":false},"axis":{"title":null,"values":[0,5,10,15,20,25,30,35,40,45,50],"labels":false,"ticks":false,"grid":true,"gridWidth":{"condition":{"test":"datum.value % 10 !== 0","value":0.55},"value":1.1}}},"y2":{"field":"hi"}}},
    {"data":{"name":"box"},"transform":[{"filter":{"field":"p","equal":"H2"}}],"mark":{"type":"bar","width":{"band":0.09},"fill":"#BFBFBF","stroke":"#4D4D4D","strokeWidth":0.5},"encoding":{"y":{"field":"q1","type":"quantitative","scale":{"domain":[-2.4,52.8],"nice":false,"zero":false},"axis":{"title":null,"values":[0,5,10,15,20,25,30,35,40,45,50],"labels":false,"ticks":false,"grid":true,"gridWidth":{"condition":{"test":"datum.value % 10 !== 0","value":0.55},"value":1.1}}},"y2":{"field":"q3"}}},
    {"data":{"name":"box"},"transform":[{"filter":{"field":"p","equal":"H2"}}],"mark":{"type":"tick","color":"#111111","size":4,"thickness":1.6},"encoding":{"y":{"field":"med","type":"quantitative","scale":{"domain":[-2.4,52.8],"nice":false,"zero":false},"axis":{"title":null,"values":[0,5,10,15,20,25,30,35,40,45,50],"labels":false,"ticks":false,"grid":true,"gridWidth":{"condition":{"test":"datum.value % 10 !== 0","value":0.55},"value":1.1}}}}}
   ]}
  ]},
  {"spacing":0,"bounds":"flush","vconcat":[
   {"width":219,"height":19,"data":{"name":"panels"},"transform":[{"filter":{"field":"p","equal":"H3"}}],"view":{"fill":"#D9D9D9"},"mark":{"type":"text","fontWeight":"bold","fontSize":10,"color":"#1A1A1A"},"encoding":{"text":{"field":"p","type":"nominal"}}},
   {"width":219,"height":191,"encoding":{"x":{"field":"m","type":"nominal","scale":{"type":"band","domain":["SBFT","Random","Aequitas","Themis","SG"],"paddingInner":0,"paddingOuter":0.1},"axis":{"title":null,"labelAngle":0,"labelFontSize":10,"bandPosition":0.5,"grid":true,"gridWidth":1.1}}},"resolve":{"scale":{"xOffset":"independent"}},"layer":[
    {"data":{"name":"violin"},"transform":[{"filter":{"field":"p","equal":"H3"}}],"mark":{"type":"line","color":"#333333","strokeWidth":0.9,"interpolate":"catmull-rom"},"encoding":{"y":{"field":"y","type":"quantitative","scale":{"domain":[-2.4,52.8],"nice":false,"zero":false},"axis":{"title":null,"values":[0,5,10,15,20,25,30,35,40,45,50],"labels":false,"ticks":false,"grid":true,"gridWidth":{"condition":{"test":"datum.value % 10 !== 0","value":0.55},"value":1.1}}},"xOffset":{"field":"w","type":"quantitative","scale":{"domain":[-0.5,0.5],"range":[0,42.115]}},"order":{"field":"y","type":"quantitative"},"detail":{"field":"m"}}},
    {"data":{"name":"violin"},"transform":[{"filter":{"field":"p","equal":"H3"}}],"mark":{"type":"line","color":"#333333","strokeWidth":0.9,"interpolate":"catmull-rom"},"encoding":{"y":{"field":"y","type":"quantitative","scale":{"domain":[-2.4,52.8],"nice":false,"zero":false},"axis":{"title":null,"values":[0,5,10,15,20,25,30,35,40,45,50],"labels":false,"ticks":false,"grid":true,"gridWidth":{"condition":{"test":"datum.value % 10 !== 0","value":0.55},"value":1.1}}},"xOffset":{"field":"w","type":"quantitative","scale":{"domain":[-0.5,0.5],"range":[0,42.115],"reverse":true}},"order":{"field":"y","type":"quantitative"},"detail":{"field":"m"}}},
    {"data":{"name":"violin"},"transform":[{"filter":{"field":"p","equal":"H3"}},{"joinaggregate":[{"op":"min","field":"y","as":"y0"},{"op":"max","field":"y","as":"y1"}],"groupby":["m"]},{"filter":"datum.y === datum.y0 || datum.y === datum.y1"}],"mark":{"type":"tick","color":"#333333","thickness":0.9},"encoding":{"y":{"field":"y","type":"quantitative","scale":{"domain":[-2.4,52.8],"nice":false,"zero":false},"axis":{"title":null,"values":[0,5,10,15,20,25,30,35,40,45,50],"labels":false,"ticks":false,"grid":true,"gridWidth":{"condition":{"test":"datum.value % 10 !== 0","value":0.55},"value":1.1}}},"size":{"field":"w","type":"quantitative","scale":{"domain":[0,0.5],"range":[0,42.115]},"legend":null}}},
    {"data":{"name":"box"},"transform":[{"filter":{"field":"p","equal":"H3"}}],"mark":{"type":"rule","color":"#333333","strokeWidth":0.9},"encoding":{"y":{"field":"lo","type":"quantitative","scale":{"domain":[-2.4,52.8],"nice":false,"zero":false},"axis":{"title":null,"values":[0,5,10,15,20,25,30,35,40,45,50],"labels":false,"ticks":false,"grid":true,"gridWidth":{"condition":{"test":"datum.value % 10 !== 0","value":0.55},"value":1.1}}},"y2":{"field":"hi"}}},
    {"data":{"name":"box"},"transform":[{"filter":{"field":"p","equal":"H3"}}],"mark":{"type":"bar","width":{"band":0.09},"fill":"#BFBFBF","stroke":"#4D4D4D","strokeWidth":0.5},"encoding":{"y":{"field":"q1","type":"quantitative","scale":{"domain":[-2.4,52.8],"nice":false,"zero":false},"axis":{"title":null,"values":[0,5,10,15,20,25,30,35,40,45,50],"labels":false,"ticks":false,"grid":true,"gridWidth":{"condition":{"test":"datum.value % 10 !== 0","value":0.55},"value":1.1}}},"y2":{"field":"q3"}}},
    {"data":{"name":"box"},"transform":[{"filter":{"field":"p","equal":"H3"}}],"mark":{"type":"tick","color":"#111111","size":4,"thickness":1.6},"encoding":{"y":{"field":"med","type":"quantitative","scale":{"domain":[-2.4,52.8],"nice":false,"zero":false},"axis":{"title":null,"values":[0,5,10,15,20,25,30,35,40,45,50],"labels":false,"ticks":false,"grid":true,"gridWidth":{"condition":{"test":"datum.value % 10 !== 0","value":0.55},"value":1.1}}}}}
   ]}
  ]},
  {"spacing":0,"bounds":"flush","vconcat":[
   {"width":219,"height":19,"data":{"name":"panels"},"transform":[{"filter":{"field":"p","equal":"H4"}}],"view":{"fill":"#D9D9D9"},"mark":{"type":"text","fontWeight":"bold","fontSize":10,"color":"#1A1A1A"},"encoding":{"text":{"field":"p","type":"nominal"}}},
   {"width":219,"height":191,"encoding":{"x":{"field":"m","type":"nominal","scale":{"type":"band","domain":["SBFT","Random","Aequitas","Themis","SG"],"paddingInner":0,"paddingOuter":0.1},"axis":{"title":null,"labelAngle":0,"labelFontSize":10,"bandPosition":0.5,"grid":true,"gridWidth":1.1}}},"resolve":{"scale":{"xOffset":"independent"}},"layer":[
    {"data":{"name":"violin"},"transform":[{"filter":{"field":"p","equal":"H4"}}],"mark":{"type":"line","color":"#333333","strokeWidth":0.9,"interpolate":"catmull-rom"},"encoding":{"y":{"field":"y","type":"quantitative","scale":{"domain":[-2.4,52.8],"nice":false,"zero":false},"axis":{"title":null,"values":[0,5,10,15,20,25,30,35,40,45,50],"labels":false,"ticks":false,"grid":true,"gridWidth":{"condition":{"test":"datum.value % 10 !== 0","value":0.55},"value":1.1}}},"xOffset":{"field":"w","type":"quantitative","scale":{"domain":[-0.5,0.5],"range":[0,42.115]}},"order":{"field":"y","type":"quantitative"},"detail":{"field":"m"}}},
    {"data":{"name":"violin"},"transform":[{"filter":{"field":"p","equal":"H4"}}],"mark":{"type":"line","color":"#333333","strokeWidth":0.9,"interpolate":"catmull-rom"},"encoding":{"y":{"field":"y","type":"quantitative","scale":{"domain":[-2.4,52.8],"nice":false,"zero":false},"axis":{"title":null,"values":[0,5,10,15,20,25,30,35,40,45,50],"labels":false,"ticks":false,"grid":true,"gridWidth":{"condition":{"test":"datum.value % 10 !== 0","value":0.55},"value":1.1}}},"xOffset":{"field":"w","type":"quantitative","scale":{"domain":[-0.5,0.5],"range":[0,42.115],"reverse":true}},"order":{"field":"y","type":"quantitative"},"detail":{"field":"m"}}},
    {"data":{"name":"violin"},"transform":[{"filter":{"field":"p","equal":"H4"}},{"joinaggregate":[{"op":"min","field":"y","as":"y0"},{"op":"max","field":"y","as":"y1"}],"groupby":["m"]},{"filter":"datum.y === datum.y0 || datum.y === datum.y1"}],"mark":{"type":"tick","color":"#333333","thickness":0.9},"encoding":{"y":{"field":"y","type":"quantitative","scale":{"domain":[-2.4,52.8],"nice":false,"zero":false},"axis":{"title":null,"values":[0,5,10,15,20,25,30,35,40,45,50],"labels":false,"ticks":false,"grid":true,"gridWidth":{"condition":{"test":"datum.value % 10 !== 0","value":0.55},"value":1.1}}},"size":{"field":"w","type":"quantitative","scale":{"domain":[0,0.5],"range":[0,42.115]},"legend":null}}},
    {"data":{"name":"box"},"transform":[{"filter":{"field":"p","equal":"H4"}}],"mark":{"type":"rule","color":"#333333","strokeWidth":0.9},"encoding":{"y":{"field":"lo","type":"quantitative","scale":{"domain":[-2.4,52.8],"nice":false,"zero":false},"axis":{"title":null,"values":[0,5,10,15,20,25,30,35,40,45,50],"labels":false,"ticks":false,"grid":true,"gridWidth":{"condition":{"test":"datum.value % 10 !== 0","value":0.55},"value":1.1}}},"y2":{"field":"hi"}}},
    {"data":{"name":"box"},"transform":[{"filter":{"field":"p","equal":"H4"}}],"mark":{"type":"bar","width":{"band":0.09},"fill":"#BFBFBF","stroke":"#4D4D4D","strokeWidth":0.5},"encoding":{"y":{"field":"q1","type":"quantitative","scale":{"domain":[-2.4,52.8],"nice":false,"zero":false},"axis":{"title":null,"values":[0,5,10,15,20,25,30,35,40,45,50],"labels":false,"ticks":false,"grid":true,"gridWidth":{"condition":{"test":"datum.value % 10 !== 0","value":0.55},"value":1.1}}},"y2":{"field":"q3"}}},
    {"data":{"name":"box"},"transform":[{"filter":{"field":"p","equal":"H4"}}],"mark":{"type":"tick","color":"#111111","size":4,"thickness":1.6},"encoding":{"y":{"field":"med","type":"quantitative","scale":{"domain":[-2.4,52.8],"nice":false,"zero":false},"axis":{"title":null,"values":[0,5,10,15,20,25,30,35,40,45,50],"labels":false,"ticks":false,"grid":true,"gridWidth":{"condition":{"test":"datum.value % 10 !== 0","value":0.55},"value":1.1}}}}}
   ]}
  ]}
 ]},
 {"spacing": 3.3, "hconcat": [
  {"spacing":0,"bounds":"flush","vconcat":[
   {"width":219,"height":19,"data":{"name":"panels"},"transform":[{"filter":{"field":"p","equal":"H5"}}],"view":{"fill":"#D9D9D9"},"mark":{"type":"text","fontWeight":"bold","fontSize":10,"color":"#1A1A1A"},"encoding":{"text":{"field":"p","type":"nominal"}}},
   {"width":219,"height":191,"encoding":{"x":{"field":"m","type":"nominal","scale":{"type":"band","domain":["SBFT","Random","Aequitas","Themis","SG"],"paddingInner":0,"paddingOuter":0.1},"axis":{"title":null,"labelAngle":0,"labelFontSize":10,"bandPosition":0.5,"grid":true,"gridWidth":1.1}}},"resolve":{"scale":{"xOffset":"independent"}},"layer":[
    {"data":{"name":"violin"},"transform":[{"filter":{"field":"p","equal":"H5"}}],"mark":{"type":"line","color":"#333333","strokeWidth":0.9,"interpolate":"catmull-rom"},"encoding":{"y":{"field":"y","type":"quantitative","scale":{"domain":[-2.4,52.8],"nice":false,"zero":false},"axis":{"title":"Individual Fairness Degree","values":[0,5,10,15,20,25,30,35,40,45,50],"labelExpr":"datum.value % 10 === 0 ? datum.label : ''","labelFontSize":10,"titleFontSize":14,"titleFontWeight":"bold","titleColor":"#000000","titlePadding":0,"grid":true,"gridWidth":{"condition":{"test":"datum.value % 10 !== 0","value":0.55},"value":1.1},"tickOpacity":{"condition":{"test":"datum.value % 10 !== 0","value":0},"value":1}}},"xOffset":{"field":"w","type":"quantitative","scale":{"domain":[-0.5,0.5],"range":[0,42.115]}},"order":{"field":"y","type":"quantitative"},"detail":{"field":"m"}}},
    {"data":{"name":"violin"},"transform":[{"filter":{"field":"p","equal":"H5"}}],"mark":{"type":"line","color":"#333333","strokeWidth":0.9,"interpolate":"catmull-rom"},"encoding":{"y":{"field":"y","type":"quantitative","scale":{"domain":[-2.4,52.8],"nice":false,"zero":false},"axis":{"title":"Individual Fairness Degree","values":[0,5,10,15,20,25,30,35,40,45,50],"labelExpr":"datum.value % 10 === 0 ? datum.label : ''","labelFontSize":10,"titleFontSize":14,"titleFontWeight":"bold","titleColor":"#000000","titlePadding":0,"grid":true,"gridWidth":{"condition":{"test":"datum.value % 10 !== 0","value":0.55},"value":1.1},"tickOpacity":{"condition":{"test":"datum.value % 10 !== 0","value":0},"value":1}}},"xOffset":{"field":"w","type":"quantitative","scale":{"domain":[-0.5,0.5],"range":[0,42.115],"reverse":true}},"order":{"field":"y","type":"quantitative"},"detail":{"field":"m"}}},
    {"data":{"name":"violin"},"transform":[{"filter":{"field":"p","equal":"H5"}},{"joinaggregate":[{"op":"min","field":"y","as":"y0"},{"op":"max","field":"y","as":"y1"}],"groupby":["m"]},{"filter":"datum.y === datum.y0 || datum.y === datum.y1"}],"mark":{"type":"tick","color":"#333333","thickness":0.9},"encoding":{"y":{"field":"y","type":"quantitative","scale":{"domain":[-2.4,52.8],"nice":false,"zero":false},"axis":{"title":"Individual Fairness Degree","values":[0,5,10,15,20,25,30,35,40,45,50],"labelExpr":"datum.value % 10 === 0 ? datum.label : ''","labelFontSize":10,"titleFontSize":14,"titleFontWeight":"bold","titleColor":"#000000","titlePadding":0,"grid":true,"gridWidth":{"condition":{"test":"datum.value % 10 !== 0","value":0.55},"value":1.1},"tickOpacity":{"condition":{"test":"datum.value % 10 !== 0","value":0},"value":1}}},"size":{"field":"w","type":"quantitative","scale":{"domain":[0,0.5],"range":[0,42.115]},"legend":null}}},
    {"data":{"name":"box"},"transform":[{"filter":{"field":"p","equal":"H5"}}],"mark":{"type":"rule","color":"#333333","strokeWidth":0.9},"encoding":{"y":{"field":"lo","type":"quantitative","scale":{"domain":[-2.4,52.8],"nice":false,"zero":false},"axis":{"title":"Individual Fairness Degree","values":[0,5,10,15,20,25,30,35,40,45,50],"labelExpr":"datum.value % 10 === 0 ? datum.label : ''","labelFontSize":10,"titleFontSize":14,"titleFontWeight":"bold","titleColor":"#000000","titlePadding":0,"grid":true,"gridWidth":{"condition":{"test":"datum.value % 10 !== 0","value":0.55},"value":1.1},"tickOpacity":{"condition":{"test":"datum.value % 10 !== 0","value":0},"value":1}}},"y2":{"field":"hi"}}},
    {"data":{"name":"box"},"transform":[{"filter":{"field":"p","equal":"H5"}}],"mark":{"type":"bar","width":{"band":0.09},"fill":"#BFBFBF","stroke":"#4D4D4D","strokeWidth":0.5},"encoding":{"y":{"field":"q1","type":"quantitative","scale":{"domain":[-2.4,52.8],"nice":false,"zero":false},"axis":{"title":"Individual Fairness Degree","values":[0,5,10,15,20,25,30,35,40,45,50],"labelExpr":"datum.value % 10 === 0 ? datum.label : ''","labelFontSize":10,"titleFontSize":14,"titleFontWeight":"bold","titleColor":"#000000","titlePadding":0,"grid":true,"gridWidth":{"condition":{"test":"datum.value % 10 !== 0","value":0.55},"value":1.1},"tickOpacity":{"condition":{"test":"datum.value % 10 !== 0","value":0},"value":1}}},"y2":{"field":"q3"}}},
    {"data":{"name":"box"},"transform":[{"filter":{"field":"p","equal":"H5"}}],"mark":{"type":"tick","color":"#111111","size":4,"thickness":1.6},"encoding":{"y":{"field":"med","type":"quantitative","scale":{"domain":[-2.4,52.8],"nice":false,"zero":false},"axis":{"title":"Individual Fairness Degree","values":[0,5,10,15,20,25,30,35,40,45,50],"labelExpr":"datum.value % 10 === 0 ? datum.label : ''","labelFontSize":10,"titleFontSize":14,"titleFontWeight":"bold","titleColor":"#000000","titlePadding":0,"grid":true,"gridWidth":{"condition":{"test":"datum.value % 10 !== 0","value":0.55},"value":1.1},"tickOpacity":{"condition":{"test":"datum.value % 10 !== 0","value":0},"value":1}}}}}
   ]}
  ]},
  {"spacing":0,"bounds":"flush","vconcat":[
   {"width":219,"height":19,"data":{"name":"panels"},"transform":[{"filter":{"field":"p","equal":"H6"}}],"view":{"fill":"#D9D9D9"},"mark":{"type":"text","fontWeight":"bold","fontSize":10,"color":"#1A1A1A"},"encoding":{"text":{"field":"p","type":"nominal"}}},
   {"width":219,"height":191,"encoding":{"x":{"field":"m","type":"nominal","scale":{"type":"band","domain":["SBFT","Random","Aequitas","Themis","SG"],"paddingInner":0,"paddingOuter":0.1},"axis":{"title":null,"labelAngle":0,"labelFontSize":10,"bandPosition":0.5,"grid":true,"gridWidth":1.1}}},"resolve":{"scale":{"xOffset":"independent"}},"layer":[
    {"data":{"name":"violin"},"transform":[{"filter":{"field":"p","equal":"H6"}}],"mark":{"type":"line","color":"#333333","strokeWidth":0.9,"interpolate":"catmull-rom"},"encoding":{"y":{"field":"y","type":"quantitative","scale":{"domain":[-2.4,52.8],"nice":false,"zero":false},"axis":{"title":null,"values":[0,5,10,15,20,25,30,35,40,45,50],"labels":false,"ticks":false,"grid":true,"gridWidth":{"condition":{"test":"datum.value % 10 !== 0","value":0.55},"value":1.1}}},"xOffset":{"field":"w","type":"quantitative","scale":{"domain":[-0.5,0.5],"range":[0,42.115]}},"order":{"field":"y","type":"quantitative"},"detail":{"field":"m"}}},
    {"data":{"name":"violin"},"transform":[{"filter":{"field":"p","equal":"H6"}}],"mark":{"type":"line","color":"#333333","strokeWidth":0.9,"interpolate":"catmull-rom"},"encoding":{"y":{"field":"y","type":"quantitative","scale":{"domain":[-2.4,52.8],"nice":false,"zero":false},"axis":{"title":null,"values":[0,5,10,15,20,25,30,35,40,45,50],"labels":false,"ticks":false,"grid":true,"gridWidth":{"condition":{"test":"datum.value % 10 !== 0","value":0.55},"value":1.1}}},"xOffset":{"field":"w","type":"quantitative","scale":{"domain":[-0.5,0.5],"range":[0,42.115],"reverse":true}},"order":{"field":"y","type":"quantitative"},"detail":{"field":"m"}}},
    {"data":{"name":"violin"},"transform":[{"filter":{"field":"p","equal":"H6"}},{"joinaggregate":[{"op":"min","field":"y","as":"y0"},{"op":"max","field":"y","as":"y1"}],"groupby":["m"]},{"filter":"datum.y === datum.y0 || datum.y === datum.y1"}],"mark":{"type":"tick","color":"#333333","thickness":0.9},"encoding":{"y":{"field":"y","type":"quantitative","scale":{"domain":[-2.4,52.8],"nice":false,"zero":false},"axis":{"title":null,"values":[0,5,10,15,20,25,30,35,40,45,50],"labels":false,"ticks":false,"grid":true,"gridWidth":{"condition":{"test":"datum.value % 10 !== 0","value":0.55},"value":1.1}}},"size":{"field":"w","type":"quantitative","scale":{"domain":[0,0.5],"range":[0,42.115]},"legend":null}}},
    {"data":{"name":"box"},"transform":[{"filter":{"field":"p","equal":"H6"}}],"mark":{"type":"rule","color":"#333333","strokeWidth":0.9},"encoding":{"y":{"field":"lo","type":"quantitative","scale":{"domain":[-2.4,52.8],"nice":false,"zero":false},"axis":{"title":null,"values":[0,5,10,15,20,25,30,35,40,45,50],"labels":false,"ticks":false,"grid":true,"gridWidth":{"condition":{"test":"datum.value % 10 !== 0","value":0.55},"value":1.1}}},"y2":{"field":"hi"}}},
    {"data":{"name":"box"},"transform":[{"filter":{"field":"p","equal":"H6"}}],"mark":{"type":"bar","width":{"band":0.09},"fill":"#BFBFBF","stroke":"#4D4D4D","strokeWidth":0.5},"encoding":{"y":{"field":"q1","type":"quantitative","scale":{"domain":[-2.4,52.8],"nice":false,"zero":false},"axis":{"title":null,"values":[0,5,10,15,20,25,30,35,40,45,50],"labels":false,"ticks":false,"grid":true,"gridWidth":{"condition":{"test":"datum.value % 10 !== 0","value":0.55},"value":1.1}}},"y2":{"field":"q3"}}},
    {"data":{"name":"box"},"transform":[{"filter":{"field":"p","equal":"H6"}}],"mark":{"type":"tick","color":"#111111","size":4,"thickness":1.6},"encoding":{"y":{"field":"med","type":"quantitative","scale":{"domain":[-2.4,52.8],"nice":false,"zero":false},"axis":{"title":null,"values":[0,5,10,15,20,25,30,35,40,45,50],"labels":false,"ticks":false,"grid":true,"gridWidth":{"condition":{"test":"datum.value % 10 !== 0","value":0.55},"value":1.1}}}}}
   ]}
  ]},
  {"spacing":0,"bounds":"flush","vconcat":[
   {"width":219,"height":19,"data":{"name":"panels"},"transform":[{"filter":{"field":"p","equal":"H7"}}],"view":{"fill":"#D9D9D9"},"mark":{"type":"text","fontWeight":"bold","fontSize":10,"color":"#1A1A1A"},"encoding":{"text":{"field":"p","type":"nominal"}}},
   {"width":219,"height":191,"encoding":{"x":{"field":"m","type":"nominal","scale":{"type":"band","domain":["SBFT","Random","Aequitas","Themis","SG"],"paddingInner":0,"paddingOuter":0.1},"axis":{"title":null,"labelAngle":0,"labelFontSize":10,"bandPosition":0.5,"grid":true,"gridWidth":1.1}}},"resolve":{"scale":{"xOffset":"independent"}},"layer":[
    {"data":{"name":"violin"},"transform":[{"filter":{"field":"p","equal":"H7"}}],"mark":{"type":"line","color":"#333333","strokeWidth":0.9,"interpolate":"catmull-rom"},"encoding":{"y":{"field":"y","type":"quantitative","scale":{"domain":[-2.4,52.8],"nice":false,"zero":false},"axis":{"title":null,"values":[0,5,10,15,20,25,30,35,40,45,50],"labels":false,"ticks":false,"grid":true,"gridWidth":{"condition":{"test":"datum.value % 10 !== 0","value":0.55},"value":1.1}}},"xOffset":{"field":"w","type":"quantitative","scale":{"domain":[-0.5,0.5],"range":[0,42.115]}},"order":{"field":"y","type":"quantitative"},"detail":{"field":"m"}}},
    {"data":{"name":"violin"},"transform":[{"filter":{"field":"p","equal":"H7"}}],"mark":{"type":"line","color":"#333333","strokeWidth":0.9,"interpolate":"catmull-rom"},"encoding":{"y":{"field":"y","type":"quantitative","scale":{"domain":[-2.4,52.8],"nice":false,"zero":false},"axis":{"title":null,"values":[0,5,10,15,20,25,30,35,40,45,50],"labels":false,"ticks":false,"grid":true,"gridWidth":{"condition":{"test":"datum.value % 10 !== 0","value":0.55},"value":1.1}}},"xOffset":{"field":"w","type":"quantitative","scale":{"domain":[-0.5,0.5],"range":[0,42.115],"reverse":true}},"order":{"field":"y","type":"quantitative"},"detail":{"field":"m"}}},
    {"data":{"name":"violin"},"transform":[{"filter":{"field":"p","equal":"H7"}},{"joinaggregate":[{"op":"min","field":"y","as":"y0"},{"op":"max","field":"y","as":"y1"}],"groupby":["m"]},{"filter":"datum.y === datum.y0 || datum.y === datum.y1"}],"mark":{"type":"tick","color":"#333333","thickness":0.9},"encoding":{"y":{"field":"y","type":"quantitative","scale":{"domain":[-2.4,52.8],"nice":false,"zero":false},"axis":{"title":null,"values":[0,5,10,15,20,25,30,35,40,45,50],"labels":false,"ticks":false,"grid":true,"gridWidth":{"condition":{"test":"datum.value % 10 !== 0","value":0.55},"value":1.1}}},"size":{"field":"w","type":"quantitative","scale":{"domain":[0,0.5],"range":[0,42.115]},"legend":null}}},
    {"data":{"name":"box"},"transform":[{"filter":{"field":"p","equal":"H7"}}],"mark":{"type":"rule","color":"#333333","strokeWidth":0.9},"encoding":{"y":{"field":"lo","type":"quantitative","scale":{"domain":[-2.4,52.8],"nice":false,"zero":false},"axis":{"title":null,"values":[0,5,10,15,20,25,30,35,40,45,50],"labels":false,"ticks":false,"grid":true,"gridWidth":{"condition":{"test":"datum.value % 10 !== 0","value":0.55},"value":1.1}}},"y2":{"field":"hi"}}},
    {"data":{"name":"box"},"transform":[{"filter":{"field":"p","equal":"H7"}}],"mark":{"type":"bar","width":{"band":0.09},"fill":"#BFBFBF","stroke":"#4D4D4D","strokeWidth":0.5},"encoding":{"y":{"field":"q1","type":"quantitative","scale":{"domain":[-2.4,52.8],"nice":false,"zero":false},"axis":{"title":null,"values":[0,5,10,15,20,25,30,35,40,45,50],"labels":false,"ticks":false,"grid":true,"gridWidth":{"condition":{"test":"datum.value % 10 !== 0","value":0.55},"value":1.1}}},"y2":{"field":"q3"}}},
    {"data":{"name":"box"},"transform":[{"filter":{"field":"p","equal":"H7"}}],"mark":{"type":"tick","color":"#111111","size":4,"thickness":1.6},"encoding":{"y":{"field":"med","type":"quantitative","scale":{"domain":[-2.4,52.8],"nice":false,"zero":false},"axis":{"title":null,"values":[0,5,10,15,20,25,30,35,40,45,50],"labels":false,"ticks":false,"grid":true,"gridWidth":{"condition":{"test":"datum.value % 10 !== 0","value":0.55},"value":1.1}}}}}
   ]}
  ]},
  {"spacing":0,"bounds":"flush","vconcat":[
   {"width":219,"height":19,"data":{"name":"panels"},"transform":[{"filter":{"field":"p","equal":"H8"}}],"view":{"fill":"#D9D9D9"},"mark":{"type":"text","fontWeight":"bold","fontSize":10,"color":"#1A1A1A"},"encoding":{"text":{"field":"p","type":"nominal"}}},
   {"width":219,"height":191,"encoding":{"x":{"field":"m","type":"nominal","scale":{"type":"band","domain":["SBFT","Random","Aequitas","Themis","SG"],"paddingInner":0,"paddingOuter":0.1},"axis":{"title":null,"labelAngle":0,"labelFontSize":10,"bandPosition":0.5,"grid":true,"gridWidth":1.1}}},"resolve":{"scale":{"xOffset":"independent"}},"layer":[
    {"data":{"name":"violin"},"transform":[{"filter":{"field":"p","equal":"H8"}}],"mark":{"type":"line","color":"#333333","strokeWidth":0.9,"interpolate":"catmull-rom"},"encoding":{"y":{"field":"y","type":"quantitative","scale":{"domain":[-2.4,52.8],"nice":false,"zero":false},"axis":{"title":null,"values":[0,5,10,15,20,25,30,35,40,45,50],"labels":false,"ticks":false,"grid":true,"gridWidth":{"condition":{"test":"datum.value % 10 !== 0","value":0.55},"value":1.1}}},"xOffset":{"field":"w","type":"quantitative","scale":{"domain":[-0.5,0.5],"range":[0,42.115]}},"order":{"field":"y","type":"quantitative"},"detail":{"field":"m"}}},
    {"data":{"name":"violin"},"transform":[{"filter":{"field":"p","equal":"H8"}}],"mark":{"type":"line","color":"#333333","strokeWidth":0.9,"interpolate":"catmull-rom"},"encoding":{"y":{"field":"y","type":"quantitative","scale":{"domain":[-2.4,52.8],"nice":false,"zero":false},"axis":{"title":null,"values":[0,5,10,15,20,25,30,35,40,45,50],"labels":false,"ticks":false,"grid":true,"gridWidth":{"condition":{"test":"datum.value % 10 !== 0","value":0.55},"value":1.1}}},"xOffset":{"field":"w","type":"quantitative","scale":{"domain":[-0.5,0.5],"range":[0,42.115],"reverse":true}},"order":{"field":"y","type":"quantitative"},"detail":{"field":"m"}}},
    {"data":{"name":"violin"},"transform":[{"filter":{"field":"p","equal":"H8"}},{"joinaggregate":[{"op":"min","field":"y","as":"y0"},{"op":"max","field":"y","as":"y1"}],"groupby":["m"]},{"filter":"datum.y === datum.y0 || datum.y === datum.y1"}],"mark":{"type":"tick","color":"#333333","thickness":0.9},"encoding":{"y":{"field":"y","type":"quantitative","scale":{"domain":[-2.4,52.8],"nice":false,"zero":false},"axis":{"title":null,"values":[0,5,10,15,20,25,30,35,40,45,50],"labels":false,"ticks":false,"grid":true,"gridWidth":{"condition":{"test":"datum.value % 10 !== 0","value":0.55},"value":1.1}}},"size":{"field":"w","type":"quantitative","scale":{"domain":[0,0.5],"range":[0,42.115]},"legend":null}}},
    {"data":{"name":"box"},"transform":[{"filter":{"field":"p","equal":"H8"}}],"mark":{"type":"rule","color":"#333333","strokeWidth":0.9},"encoding":{"y":{"field":"lo","type":"quantitative","scale":{"domain":[-2.4,52.8],"nice":false,"zero":false},"axis":{"title":null,"values":[0,5,10,15,20,25,30,35,40,45,50],"labels":false,"ticks":false,"grid":true,"gridWidth":{"condition":{"test":"datum.value % 10 !== 0","value":0.55},"value":1.1}}},"y2":{"field":"hi"}}},
    {"data":{"name":"box"},"transform":[{"filter":{"field":"p","equal":"H8"}}],"mark":{"type":"bar","width":{"band":0.09},"fill":"#BFBFBF","stroke":"#4D4D4D","strokeWidth":0.5},"encoding":{"y":{"field":"q1","type":"quantitative","scale":{"domain":[-2.4,52.8],"nice":false,"zero":false},"axis":{"title":null,"values":[0,5,10,15,20,25,30,35,40,45,50],"labels":false,"ticks":false,"grid":true,"gridWidth":{"condition":{"test":"datum.value % 10 !== 0","value":0.55},"value":1.1}}},"y2":{"field":"q3"}}},
    {"data":{"name":"box"},"transform":[{"filter":{"field":"p","equal":"H8"}}],"mark":{"type":"tick","color":"#111111","size":4,"thickness":1.6},"encoding":{"y":{"field":"med","type":"quantitative","scale":{"domain":[-2.4,52.8],"nice":false,"zero":false},"axis":{"title":null,"values":[0,5,10,15,20,25,30,35,40,45,50],"labels":false,"ticks":false,"grid":true,"gridWidth":{"condition":{"test":"datum.value % 10 !== 0","value":0.55},"value":1.1}}}}}
   ]}
  ]}
 ]},
 {"spacing": 3.5, "hconcat": [
  {"spacing":0,"bounds":"flush","vconcat":[
   {"width":293,"height":18,"data":{"name":"panels"},"transform":[{"filter":{"field":"p","equal":"H10"}}],"view":{"fill":"#D9D9D9"},"mark":{"type":"text","fontWeight":"bold","fontSize":12,"color":"#1A1A1A"},"encoding":{"text":{"field":"p","type":"nominal"}}},
   {"width":293,"height":190,"encoding":{"x":{"field":"m","type":"nominal","scale":{"type":"band","domain":["SBFT","Random","Aequitas","Themis","SG"],"paddingInner":0,"paddingOuter":0.1},"axis":{"title":null,"labelAngle":0,"labelFontSize":12,"bandPosition":0.5,"grid":true,"gridWidth":1.1}}},"resolve":{"scale":{"xOffset":"independent"}},"layer":[
    {"data":{"name":"violin"},"transform":[{"filter":{"field":"p","equal":"H10"}}],"mark":{"type":"line","color":"#333333","strokeWidth":0.9,"interpolate":"catmull-rom"},"encoding":{"y":{"field":"y","type":"quantitative","scale":{"domain":[-2.4,52.8],"nice":false,"zero":false},"axis":{"title":"Individual Fairness Degree","values":[0,5,10,15,20,25,30,35,40,45,50],"labelExpr":"datum.value % 10 === 0 ? datum.label : ''","labelFontSize":10.5,"titleFontSize":14,"titleFontWeight":"bold","titleColor":"#000000","titlePadding":0,"grid":true,"gridWidth":{"condition":{"test":"datum.value % 10 !== 0","value":0.55},"value":1.1},"tickOpacity":{"condition":{"test":"datum.value % 10 !== 0","value":0},"value":1}}},"xOffset":{"field":"w","type":"quantitative","scale":{"domain":[-0.5,0.5],"range":[0,56.346]}},"order":{"field":"y","type":"quantitative"},"detail":{"field":"m"}}},
    {"data":{"name":"violin"},"transform":[{"filter":{"field":"p","equal":"H10"}}],"mark":{"type":"line","color":"#333333","strokeWidth":0.9,"interpolate":"catmull-rom"},"encoding":{"y":{"field":"y","type":"quantitative","scale":{"domain":[-2.4,52.8],"nice":false,"zero":false},"axis":{"title":"Individual Fairness Degree","values":[0,5,10,15,20,25,30,35,40,45,50],"labelExpr":"datum.value % 10 === 0 ? datum.label : ''","labelFontSize":10.5,"titleFontSize":14,"titleFontWeight":"bold","titleColor":"#000000","titlePadding":0,"grid":true,"gridWidth":{"condition":{"test":"datum.value % 10 !== 0","value":0.55},"value":1.1},"tickOpacity":{"condition":{"test":"datum.value % 10 !== 0","value":0},"value":1}}},"xOffset":{"field":"w","type":"quantitative","scale":{"domain":[-0.5,0.5],"range":[0,56.346],"reverse":true}},"order":{"field":"y","type":"quantitative"},"detail":{"field":"m"}}},
    {"data":{"name":"violin"},"transform":[{"filter":{"field":"p","equal":"H10"}},{"joinaggregate":[{"op":"min","field":"y","as":"y0"},{"op":"max","field":"y","as":"y1"}],"groupby":["m"]},{"filter":"datum.y === datum.y0 || datum.y === datum.y1"}],"mark":{"type":"tick","color":"#333333","thickness":0.9},"encoding":{"y":{"field":"y","type":"quantitative","scale":{"domain":[-2.4,52.8],"nice":false,"zero":false},"axis":{"title":"Individual Fairness Degree","values":[0,5,10,15,20,25,30,35,40,45,50],"labelExpr":"datum.value % 10 === 0 ? datum.label : ''","labelFontSize":10.5,"titleFontSize":14,"titleFontWeight":"bold","titleColor":"#000000","titlePadding":0,"grid":true,"gridWidth":{"condition":{"test":"datum.value % 10 !== 0","value":0.55},"value":1.1},"tickOpacity":{"condition":{"test":"datum.value % 10 !== 0","value":0},"value":1}}},"size":{"field":"w","type":"quantitative","scale":{"domain":[0,0.5],"range":[0,56.346]},"legend":null}}},
    {"data":{"name":"box"},"transform":[{"filter":{"field":"p","equal":"H10"}}],"mark":{"type":"rule","color":"#333333","strokeWidth":0.9},"encoding":{"y":{"field":"lo","type":"quantitative","scale":{"domain":[-2.4,52.8],"nice":false,"zero":false},"axis":{"title":"Individual Fairness Degree","values":[0,5,10,15,20,25,30,35,40,45,50],"labelExpr":"datum.value % 10 === 0 ? datum.label : ''","labelFontSize":10.5,"titleFontSize":14,"titleFontWeight":"bold","titleColor":"#000000","titlePadding":0,"grid":true,"gridWidth":{"condition":{"test":"datum.value % 10 !== 0","value":0.55},"value":1.1},"tickOpacity":{"condition":{"test":"datum.value % 10 !== 0","value":0},"value":1}}},"y2":{"field":"hi"}}},
    {"data":{"name":"box"},"transform":[{"filter":{"field":"p","equal":"H10"}}],"mark":{"type":"bar","width":{"band":0.09},"fill":"#BFBFBF","stroke":"#4D4D4D","strokeWidth":0.5},"encoding":{"y":{"field":"q1","type":"quantitative","scale":{"domain":[-2.4,52.8],"nice":false,"zero":false},"axis":{"title":"Individual Fairness Degree","values":[0,5,10,15,20,25,30,35,40,45,50],"labelExpr":"datum.value % 10 === 0 ? datum.label : ''","labelFontSize":10.5,"titleFontSize":14,"titleFontWeight":"bold","titleColor":"#000000","titlePadding":0,"grid":true,"gridWidth":{"condition":{"test":"datum.value % 10 !== 0","value":0.55},"value":1.1},"tickOpacity":{"condition":{"test":"datum.value % 10 !== 0","value":0},"value":1}}},"y2":{"field":"q3"}}},
    {"data":{"name":"box"},"transform":[{"filter":{"field":"p","equal":"H10"}}],"mark":{"type":"tick","color":"#111111","size":5,"thickness":1.6},"encoding":{"y":{"field":"med","type":"quantitative","scale":{"domain":[-2.4,52.8],"nice":false,"zero":false},"axis":{"title":"Individual Fairness Degree","values":[0,5,10,15,20,25,30,35,40,45,50],"labelExpr":"datum.value % 10 === 0 ? datum.label : ''","labelFontSize":10.5,"titleFontSize":14,"titleFontWeight":"bold","titleColor":"#000000","titlePadding":0,"grid":true,"gridWidth":{"condition":{"test":"datum.value % 10 !== 0","value":0.55},"value":1.1},"tickOpacity":{"condition":{"test":"datum.value % 10 !== 0","value":0},"value":1}}}}}
   ]}
  ]},
  {"spacing":0,"bounds":"flush","vconcat":[
   {"width":293,"height":18,"data":{"name":"panels"},"transform":[{"filter":{"field":"p","equal":"H11"}}],"view":{"fill":"#D9D9D9"},"mark":{"type":"text","fontWeight":"bold","fontSize":12,"color":"#1A1A1A"},"encoding":{"text":{"field":"p","type":"nominal"}}},
   {"width":293,"height":190,"encoding":{"x":{"field":"m","type":"nominal","scale":{"type":"band","domain":["SBFT","Random","Aequitas","Themis","SG"],"paddingInner":0,"paddingOuter":0.1},"axis":{"title":null,"labelAngle":0,"labelFontSize":12,"bandPosition":0.5,"grid":true,"gridWidth":1.1}}},"resolve":{"scale":{"xOffset":"independent"}},"layer":[
    {"data":{"name":"violin"},"transform":[{"filter":{"field":"p","equal":"H11"}}],"mark":{"type":"line","color":"#333333","strokeWidth":0.9,"interpolate":"catmull-rom"},"encoding":{"y":{"field":"y","type":"quantitative","scale":{"domain":[-2.4,52.8],"nice":false,"zero":false},"axis":{"title":null,"values":[0,5,10,15,20,25,30,35,40,45,50],"labels":false,"ticks":false,"grid":true,"gridWidth":{"condition":{"test":"datum.value % 10 !== 0","value":0.55},"value":1.1}}},"xOffset":{"field":"w","type":"quantitative","scale":{"domain":[-0.5,0.5],"range":[0,56.346]}},"order":{"field":"y","type":"quantitative"},"detail":{"field":"m"}}},
    {"data":{"name":"violin"},"transform":[{"filter":{"field":"p","equal":"H11"}}],"mark":{"type":"line","color":"#333333","strokeWidth":0.9,"interpolate":"catmull-rom"},"encoding":{"y":{"field":"y","type":"quantitative","scale":{"domain":[-2.4,52.8],"nice":false,"zero":false},"axis":{"title":null,"values":[0,5,10,15,20,25,30,35,40,45,50],"labels":false,"ticks":false,"grid":true,"gridWidth":{"condition":{"test":"datum.value % 10 !== 0","value":0.55},"value":1.1}}},"xOffset":{"field":"w","type":"quantitative","scale":{"domain":[-0.5,0.5],"range":[0,56.346],"reverse":true}},"order":{"field":"y","type":"quantitative"},"detail":{"field":"m"}}},
    {"data":{"name":"violin"},"transform":[{"filter":{"field":"p","equal":"H11"}},{"joinaggregate":[{"op":"min","field":"y","as":"y0"},{"op":"max","field":"y","as":"y1"}],"groupby":["m"]},{"filter":"datum.y === datum.y0 || datum.y === datum.y1"}],"mark":{"type":"tick","color":"#333333","thickness":0.9},"encoding":{"y":{"field":"y","type":"quantitative","scale":{"domain":[-2.4,52.8],"nice":false,"zero":false},"axis":{"title":null,"values":[0,5,10,15,20,25,30,35,40,45,50],"labels":false,"ticks":false,"grid":true,"gridWidth":{"condition":{"test":"datum.value % 10 !== 0","value":0.55},"value":1.1}}},"size":{"field":"w","type":"quantitative","scale":{"domain":[0,0.5],"range":[0,56.346]},"legend":null}}},
    {"data":{"name":"box"},"transform":[{"filter":{"field":"p","equal":"H11"}}],"mark":{"type":"rule","color":"#333333","strokeWidth":0.9},"encoding":{"y":{"field":"lo","type":"quantitative","scale":{"domain":[-2.4,52.8],"nice":false,"zero":false},"axis":{"title":null,"values":[0,5,10,15,20,25,30,35,40,45,50],"labels":false,"ticks":false,"grid":true,"gridWidth":{"condition":{"test":"datum.value % 10 !== 0","value":0.55},"value":1.1}}},"y2":{"field":"hi"}}},
    {"data":{"name":"box"},"transform":[{"filter":{"field":"p","equal":"H11"}}],"mark":{"type":"bar","width":{"band":0.09},"fill":"#BFBFBF","stroke":"#4D4D4D","strokeWidth":0.5},"encoding":{"y":{"field":"q1","type":"quantitative","scale":{"domain":[-2.4,52.8],"nice":false,"zero":false},"axis":{"title":null,"values":[0,5,10,15,20,25,30,35,40,45,50],"labels":false,"ticks":false,"grid":true,"gridWidth":{"condition":{"test":"datum.value % 10 !== 0","value":0.55},"value":1.1}}},"y2":{"field":"q3"}}},
    {"data":{"name":"box"},"transform":[{"filter":{"field":"p","equal":"H11"}}],"mark":{"type":"tick","color":"#111111","size":5,"thickness":1.6},"encoding":{"y":{"field":"med","type":"quantitative","scale":{"domain":[-2.4,52.8],"nice":false,"zero":false},"axis":{"title":null,"values":[0,5,10,15,20,25,30,35,40,45,50],"labels":false,"ticks":false,"grid":true,"gridWidth":{"condition":{"test":"datum.value % 10 !== 0","value":0.55},"value":1.1}}}}}
   ]}
  ]},
  {"spacing":0,"bounds":"flush","vconcat":[
   {"width":293,"height":18,"data":{"name":"panels"},"transform":[{"filter":{"field":"p","equal":"H12"}}],"view":{"fill":"#D9D9D9"},"mark":{"type":"text","fontWeight":"bold","fontSize":12,"color":"#1A1A1A"},"encoding":{"text":{"field":"p","type":"nominal"}}},
   {"width":293,"height":190,"encoding":{"x":{"field":"m","type":"nominal","scale":{"type":"band","domain":["SBFT","Random","Aequitas","Themis","SG"],"paddingInner":0,"paddingOuter":0.1},"axis":{"title":null,"labelAngle":0,"labelFontSize":12,"bandPosition":0.5,"grid":true,"gridWidth":1.1}}},"resolve":{"scale":{"xOffset":"independent"}},"layer":[
    {"data":{"name":"violin"},"transform":[{"filter":{"field":"p","equal":"H12"}}],"mark":{"type":"line","color":"#333333","strokeWidth":0.9,"interpolate":"catmull-rom"},"encoding":{"y":{"field":"y","type":"quantitative","scale":{"domain":[-2.4,52.8],"nice":false,"zero":false},"axis":{"title":null,"values":[0,5,10,15,20,25,30,35,40,45,50],"labels":false,"ticks":false,"grid":true,"gridWidth":{"condition":{"test":"datum.value % 10 !== 0","value":0.55},"value":1.1}}},"xOffset":{"field":"w","type":"quantitative","scale":{"domain":[-0.5,0.5],"range":[0,56.346]}},"order":{"field":"y","type":"quantitative"},"detail":{"field":"m"}}},
    {"data":{"name":"violin"},"transform":[{"filter":{"field":"p","equal":"H12"}}],"mark":{"type":"line","color":"#333333","strokeWidth":0.9,"interpolate":"catmull-rom"},"encoding":{"y":{"field":"y","type":"quantitative","scale":{"domain":[-2.4,52.8],"nice":false,"zero":false},"axis":{"title":null,"values":[0,5,10,15,20,25,30,35,40,45,50],"labels":false,"ticks":false,"grid":true,"gridWidth":{"condition":{"test":"datum.value % 10 !== 0","value":0.55},"value":1.1}}},"xOffset":{"field":"w","type":"quantitative","scale":{"domain":[-0.5,0.5],"range":[0,56.346],"reverse":true}},"order":{"field":"y","type":"quantitative"},"detail":{"field":"m"}}},
    {"data":{"name":"violin"},"transform":[{"filter":{"field":"p","equal":"H12"}},{"joinaggregate":[{"op":"min","field":"y","as":"y0"},{"op":"max","field":"y","as":"y1"}],"groupby":["m"]},{"filter":"datum.y === datum.y0 || datum.y === datum.y1"}],"mark":{"type":"tick","color":"#333333","thickness":0.9},"encoding":{"y":{"field":"y","type":"quantitative","scale":{"domain":[-2.4,52.8],"nice":false,"zero":false},"axis":{"title":null,"values":[0,5,10,15,20,25,30,35,40,45,50],"labels":false,"ticks":false,"grid":true,"gridWidth":{"condition":{"test":"datum.value % 10 !== 0","value":0.55},"value":1.1}}},"size":{"field":"w","type":"quantitative","scale":{"domain":[0,0.5],"range":[0,56.346]},"legend":null}}},
    {"data":{"name":"box"},"transform":[{"filter":{"field":"p","equal":"H12"}}],"mark":{"type":"rule","color":"#333333","strokeWidth":0.9},"encoding":{"y":{"field":"lo","type":"quantitative","scale":{"domain":[-2.4,52.8],"nice":false,"zero":false},"axis":{"title":null,"values":[0,5,10,15,20,25,30,35,40,45,50],"labels":false,"ticks":false,"grid":true,"gridWidth":{"condition":{"test":"datum.value % 10 !== 0","value":0.55},"value":1.1}}},"y2":{"field":"hi"}}},
    {"data":{"name":"box"},"transform":[{"filter":{"field":"p","equal":"H12"}}],"mark":{"type":"bar","width":{"band":0.09},"fill":"#BFBFBF","stroke":"#4D4D4D","strokeWidth":0.5},"encoding":{"y":{"field":"q1","type":"quantitative","scale":{"domain":[-2.4,52.8],"nice":false,"zero":false},"axis":{"title":null,"values":[0,5,10,15,20,25,30,35,40,45,50],"labels":false,"ticks":false,"grid":true,"gridWidth":{"condition":{"test":"datum.value % 10 !== 0","value":0.55},"value":1.1}}},"y2":{"field":"q3"}}},
    {"data":{"name":"box"},"transform":[{"filter":{"field":"p","equal":"H12"}}],"mark":{"type":"tick","color":"#111111","size":5,"thickness":1.6},"encoding":{"y":{"field":"med","type":"quantitative","scale":{"domain":[-2.4,52.8],"nice":false,"zero":false},"axis":{"title":null,"values":[0,5,10,15,20,25,30,35,40,45,50],"labels":false,"ticks":false,"grid":true,"gridWidth":{"condition":{"test":"datum.value % 10 !== 0","value":0.55},"value":1.1}}}}}
   ]}
  ]}
 ]}
]
}
